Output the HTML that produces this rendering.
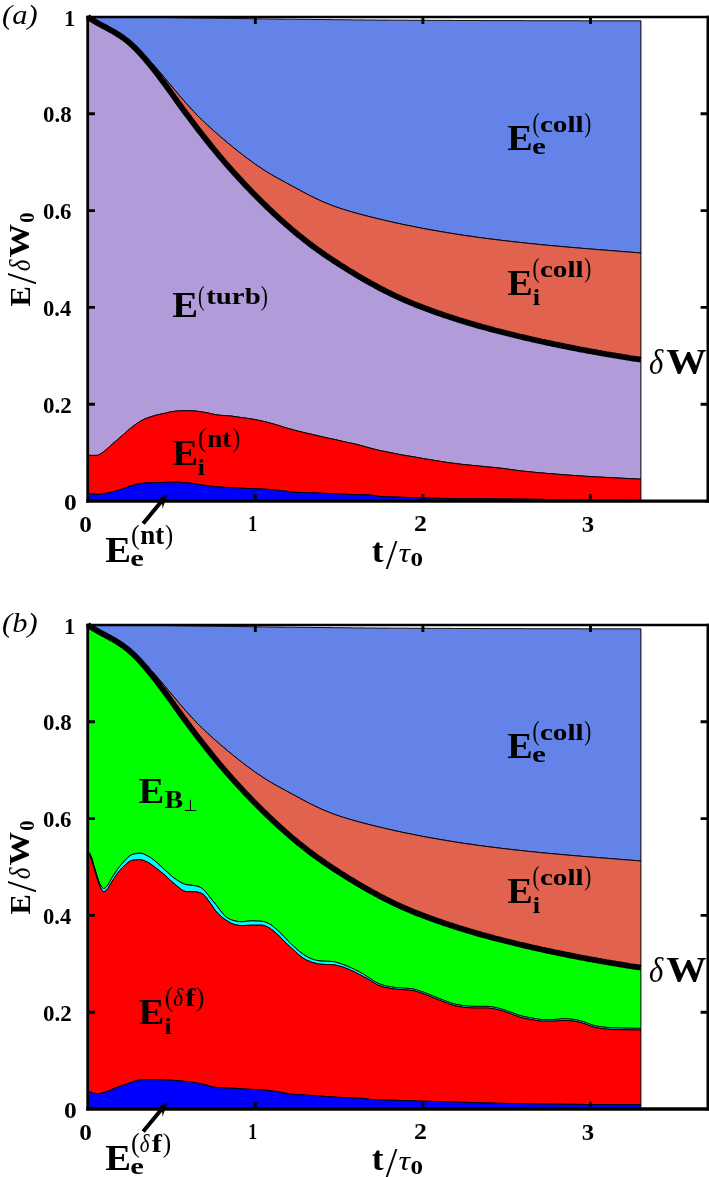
<!DOCTYPE html>
<html><head><meta charset="utf-8"><title>Energy budget</title>
<style>
html,body{margin:0;padding:0;background:#fff;}
svg{display:block;font-family:"Liberation Serif",serif;}
text{fill:#000;}
</style></head><body>
<svg width="709" height="1177" viewBox="0 0 709 1177">
<rect width="709" height="1177" fill="#fff"/>
<polygon points="87.7,16.9 89.7,16.9 91.7,16.9 93.7,16.9 95.7,16.9 97.7,17.0 99.7,17.0 101.7,17.0 103.7,17.0 105.7,17.0 107.7,17.0 109.7,17.0 111.7,17.1 113.7,17.1 115.7,17.1 117.7,17.1 119.7,17.1 121.7,17.1 123.7,17.2 125.7,17.2 127.7,17.2 129.7,17.2 131.7,17.2 133.7,17.2 135.7,17.3 137.7,17.3 139.7,17.3 141.7,17.3 143.7,17.3 145.7,17.4 147.7,17.4 149.7,17.4 151.7,17.4 153.7,17.4 155.7,17.5 157.7,17.5 159.7,17.5 161.7,17.5 163.7,17.5 165.7,17.6 167.7,17.6 169.7,17.6 171.7,17.6 173.7,17.7 175.7,17.7 177.7,17.7 179.7,17.8 181.7,17.8 183.7,17.8 185.7,17.8 187.7,17.9 189.7,17.9 191.7,17.9 193.7,17.9 195.7,18.0 197.7,18.0 199.7,18.0 201.7,18.1 203.7,18.1 205.7,18.1 207.7,18.1 209.7,18.2 211.7,18.2 213.7,18.2 215.7,18.2 217.7,18.3 219.7,18.3 221.7,18.3 223.7,18.3 225.7,18.4 227.7,18.4 229.7,18.4 231.7,18.4 233.7,18.5 235.7,18.5 237.7,18.5 239.7,18.6 241.7,18.6 243.7,18.6 245.7,18.6 247.7,18.7 249.7,18.7 251.7,18.7 253.7,18.7 255.7,18.8 257.7,18.8 259.7,18.8 261.7,18.9 263.7,18.9 265.7,18.9 267.7,18.9 269.7,19.0 271.7,19.0 273.7,19.0 275.7,19.0 277.7,19.1 279.7,19.1 281.7,19.1 283.7,19.1 285.7,19.2 287.7,19.2 289.7,19.2 291.7,19.2 293.7,19.2 295.7,19.3 297.7,19.3 299.7,19.3 301.7,19.3 303.7,19.3 305.7,19.4 307.7,19.4 309.7,19.4 311.7,19.4 313.7,19.5 315.7,19.5 317.7,19.5 319.7,19.5 321.7,19.5 323.7,19.6 325.7,19.6 327.7,19.6 329.7,19.6 331.7,19.6 333.7,19.7 335.7,19.7 337.7,19.7 339.7,19.7 341.7,19.7 343.7,19.8 345.7,19.8 347.7,19.8 349.7,19.8 351.7,19.8 353.7,19.9 355.7,19.9 357.7,19.9 359.7,19.9 361.7,19.9 363.7,19.9 365.7,20.0 367.7,20.0 369.7,20.0 371.7,20.0 373.7,20.0 375.7,20.0 377.7,20.1 379.7,20.1 381.7,20.1 383.7,20.1 385.7,20.1 387.7,20.1 389.7,20.1 391.7,20.2 393.7,20.2 395.7,20.2 397.7,20.2 399.7,20.2 401.7,20.2 403.7,20.2 405.7,20.2 407.7,20.2 409.7,20.3 411.7,20.3 413.7,20.3 415.7,20.3 417.7,20.3 419.7,20.3 421.7,20.3 423.7,20.3 425.7,20.3 427.7,20.3 429.7,20.4 431.7,20.4 433.7,20.4 435.7,20.4 437.7,20.4 439.7,20.4 441.7,20.4 443.7,20.4 445.7,20.4 447.7,20.4 449.7,20.4 451.7,20.4 453.7,20.5 455.7,20.5 457.7,20.5 459.7,20.5 461.7,20.5 463.7,20.5 465.7,20.5 467.7,20.5 469.7,20.5 471.7,20.5 473.7,20.5 475.7,20.5 477.7,20.5 479.7,20.5 481.7,20.6 483.7,20.6 485.7,20.6 487.7,20.6 489.7,20.6 491.7,20.6 493.7,20.6 495.7,20.6 497.7,20.6 499.7,20.6 501.7,20.6 503.7,20.6 505.7,20.6 507.7,20.6 509.7,20.6 511.7,20.6 513.7,20.6 515.7,20.6 517.7,20.6 519.7,20.6 521.7,20.6 523.7,20.7 525.7,20.7 527.7,20.7 529.7,20.7 531.7,20.7 533.7,20.7 535.7,20.7 537.7,20.7 539.7,20.7 541.7,20.7 543.7,20.7 545.7,20.7 547.7,20.7 549.7,20.7 551.7,20.7 553.7,20.7 555.7,20.7 557.7,20.7 559.7,20.7 561.7,20.7 563.7,20.7 565.7,20.7 567.7,20.7 569.7,20.7 571.7,20.7 573.7,20.7 575.7,20.7 577.7,20.7 579.7,20.8 581.7,20.8 583.7,20.8 585.7,20.8 587.7,20.8 589.7,20.8 591.7,20.8 593.7,20.8 595.7,20.8 597.7,20.8 599.7,20.8 601.7,20.8 603.7,20.8 605.7,20.8 607.7,20.8 609.7,20.8 611.7,20.8 613.7,20.8 615.7,20.8 617.7,20.8 619.7,20.8 621.7,20.8 623.7,20.8 625.7,20.8 627.7,20.8 629.7,20.8 631.7,20.8 633.7,20.8 635.7,20.8 637.7,20.8 639.7,20.8 640.9,20.8 640.9,253.0 639.7,252.9 637.7,252.8 635.7,252.6 633.7,252.4 631.7,252.3 629.7,252.1 627.7,252.0 625.7,251.8 623.7,251.7 621.7,251.5 619.7,251.3 617.7,251.2 615.7,251.0 613.7,250.9 611.7,250.7 609.7,250.6 607.7,250.4 605.7,250.2 603.7,250.1 601.7,249.9 599.7,249.8 597.7,249.6 595.7,249.4 593.7,249.3 591.7,249.1 589.7,249.0 587.7,248.8 585.7,248.6 583.7,248.5 581.7,248.3 579.7,248.1 577.7,248.0 575.7,247.8 573.7,247.6 571.7,247.4 569.7,247.3 567.7,247.1 565.7,246.9 563.7,246.7 561.7,246.6 559.7,246.4 557.7,246.2 555.7,246.0 553.7,245.8 551.7,245.7 549.7,245.5 547.7,245.3 545.7,245.1 543.7,244.9 541.7,244.7 539.7,244.5 537.7,244.3 535.7,244.1 533.7,243.9 531.7,243.7 529.7,243.5 527.7,243.3 525.7,243.1 523.7,242.9 521.7,242.6 519.7,242.4 517.7,242.2 515.7,242.0 513.7,241.8 511.7,241.5 509.7,241.3 507.7,241.1 505.7,240.8 503.7,240.6 501.7,240.4 499.7,240.1 497.7,239.9 495.7,239.6 493.7,239.4 491.7,239.1 489.7,238.9 487.7,238.6 485.7,238.4 483.7,238.1 481.7,237.8 479.7,237.6 477.7,237.3 475.7,237.0 473.7,236.7 471.7,236.4 469.7,236.2 467.7,235.9 465.7,235.6 463.7,235.3 461.7,235.0 459.7,234.7 457.7,234.4 455.7,234.1 453.7,233.7 451.7,233.4 449.7,233.1 447.7,232.8 445.7,232.4 443.7,232.1 441.7,231.8 439.7,231.4 437.7,231.1 435.7,230.7 433.7,230.4 431.7,230.0 429.7,229.7 427.7,229.3 425.7,228.9 423.7,228.6 421.7,228.2 419.7,227.8 417.7,227.4 415.7,227.0 413.7,226.6 411.7,226.2 409.7,225.8 407.7,225.4 405.7,225.0 403.7,224.6 401.7,224.2 399.7,223.7 397.7,223.3 395.7,222.9 393.7,222.4 391.7,222.0 389.7,221.5 387.7,221.1 385.7,220.6 383.7,220.1 381.7,219.6 379.7,219.2 377.7,218.7 375.7,218.2 373.7,217.7 371.7,217.2 369.7,216.7 367.7,216.2 365.7,215.7 363.7,215.2 361.7,214.6 359.7,214.1 357.7,213.6 355.7,213.0 353.7,212.5 351.7,211.9 349.7,211.3 347.7,210.7 345.7,210.1 343.7,209.5 341.7,208.8 339.7,208.2 337.7,207.5 335.7,206.8 333.7,206.1 331.7,205.3 329.7,204.6 327.7,203.7 325.7,202.9 323.7,202.1 321.7,201.2 319.7,200.3 317.7,199.4 315.7,198.4 313.7,197.5 311.7,196.5 309.7,195.5 307.7,194.5 305.7,193.4 303.7,192.4 301.7,191.3 299.7,190.2 297.7,189.1 295.7,188.0 293.7,186.9 291.7,185.8 289.7,184.7 287.7,183.7 285.7,182.6 283.7,181.5 281.7,180.4 279.7,179.3 277.7,178.2 275.7,177.1 273.7,176.0 271.7,174.8 269.7,173.6 267.7,172.4 265.7,171.1 263.7,169.9 261.7,168.5 259.7,167.2 257.7,165.9 255.7,164.5 253.7,163.1 251.7,161.6 249.7,160.2 247.7,158.7 245.7,157.2 243.7,155.7 241.7,154.1 239.7,152.6 237.7,151.0 235.7,149.4 233.7,147.8 231.7,146.2 229.7,144.5 227.7,142.9 225.7,141.2 223.7,139.5 221.7,137.8 219.7,136.1 217.7,134.3 215.7,132.6 213.7,130.8 211.7,129.0 209.7,127.2 207.7,125.4 205.7,123.5 203.7,121.6 201.7,119.6 199.7,117.7 197.7,115.7 195.7,113.6 193.7,111.5 191.7,109.4 189.7,107.2 187.7,105.0 185.7,102.8 183.7,100.5 181.7,98.2 179.7,95.8 177.7,93.5 175.7,91.1 173.7,88.8 171.7,86.4 169.7,84.0 167.7,81.6 165.7,79.2 163.7,76.8 161.7,74.4 159.7,72.1 157.7,69.7 155.7,67.4 153.7,65.1 151.7,62.9 149.7,60.6 147.7,58.4 145.7,56.3 143.7,54.2 141.7,52.1 139.7,50.1 137.7,48.2 135.7,46.3 133.7,44.4 131.7,42.7 129.7,41.0 127.7,39.4 125.7,37.9 123.7,36.5 121.7,35.2 119.7,34.0 117.7,32.9 115.7,31.8 113.7,30.7 111.7,29.8 109.7,28.8 107.7,27.9 105.7,26.9 103.7,26.0 101.7,25.0 99.7,24.1 97.7,23.1 95.7,22.0 93.7,20.9 91.7,19.7 89.7,18.4 87.7,17.0" fill="#6483e8" stroke="#000" stroke-width="1" stroke-linejoin="round"/>
<polygon points="87.7,17.0 89.7,18.4 91.7,19.7 93.7,20.9 95.7,22.0 97.7,23.1 99.7,24.1 101.7,25.0 103.7,26.0 105.7,26.9 107.7,27.9 109.7,28.8 111.7,29.8 113.7,30.7 115.7,31.8 117.7,32.9 119.7,34.0 121.7,35.2 123.7,36.5 125.7,37.9 127.7,39.4 129.7,41.0 131.7,42.7 133.7,44.4 135.7,46.3 137.7,48.2 139.7,50.1 141.7,52.1 143.7,54.2 145.7,56.3 147.7,58.4 149.7,60.6 151.7,62.9 153.7,65.1 155.7,67.4 157.7,69.7 159.7,72.1 161.7,74.4 163.7,76.8 165.7,79.2 167.7,81.6 169.7,84.0 171.7,86.4 173.7,88.8 175.7,91.1 177.7,93.5 179.7,95.8 181.7,98.2 183.7,100.5 185.7,102.8 187.7,105.0 189.7,107.2 191.7,109.4 193.7,111.5 195.7,113.6 197.7,115.7 199.7,117.7 201.7,119.6 203.7,121.6 205.7,123.5 207.7,125.4 209.7,127.2 211.7,129.0 213.7,130.8 215.7,132.6 217.7,134.3 219.7,136.1 221.7,137.8 223.7,139.5 225.7,141.2 227.7,142.9 229.7,144.5 231.7,146.2 233.7,147.8 235.7,149.4 237.7,151.0 239.7,152.6 241.7,154.1 243.7,155.7 245.7,157.2 247.7,158.7 249.7,160.2 251.7,161.6 253.7,163.1 255.7,164.5 257.7,165.9 259.7,167.2 261.7,168.5 263.7,169.9 265.7,171.1 267.7,172.4 269.7,173.6 271.7,174.8 273.7,176.0 275.7,177.1 277.7,178.2 279.7,179.3 281.7,180.4 283.7,181.5 285.7,182.6 287.7,183.7 289.7,184.7 291.7,185.8 293.7,186.9 295.7,188.0 297.7,189.1 299.7,190.2 301.7,191.3 303.7,192.4 305.7,193.4 307.7,194.5 309.7,195.5 311.7,196.5 313.7,197.5 315.7,198.4 317.7,199.4 319.7,200.3 321.7,201.2 323.7,202.1 325.7,202.9 327.7,203.7 329.7,204.6 331.7,205.3 333.7,206.1 335.7,206.8 337.7,207.5 339.7,208.2 341.7,208.8 343.7,209.5 345.7,210.1 347.7,210.7 349.7,211.3 351.7,211.9 353.7,212.5 355.7,213.0 357.7,213.6 359.7,214.1 361.7,214.6 363.7,215.2 365.7,215.7 367.7,216.2 369.7,216.7 371.7,217.2 373.7,217.7 375.7,218.2 377.7,218.7 379.7,219.2 381.7,219.6 383.7,220.1 385.7,220.6 387.7,221.1 389.7,221.5 391.7,222.0 393.7,222.4 395.7,222.9 397.7,223.3 399.7,223.7 401.7,224.2 403.7,224.6 405.7,225.0 407.7,225.4 409.7,225.8 411.7,226.2 413.7,226.6 415.7,227.0 417.7,227.4 419.7,227.8 421.7,228.2 423.7,228.6 425.7,228.9 427.7,229.3 429.7,229.7 431.7,230.0 433.7,230.4 435.7,230.7 437.7,231.1 439.7,231.4 441.7,231.8 443.7,232.1 445.7,232.4 447.7,232.8 449.7,233.1 451.7,233.4 453.7,233.7 455.7,234.1 457.7,234.4 459.7,234.7 461.7,235.0 463.7,235.3 465.7,235.6 467.7,235.9 469.7,236.2 471.7,236.4 473.7,236.7 475.7,237.0 477.7,237.3 479.7,237.6 481.7,237.8 483.7,238.1 485.7,238.4 487.7,238.6 489.7,238.9 491.7,239.1 493.7,239.4 495.7,239.6 497.7,239.9 499.7,240.1 501.7,240.4 503.7,240.6 505.7,240.8 507.7,241.1 509.7,241.3 511.7,241.5 513.7,241.8 515.7,242.0 517.7,242.2 519.7,242.4 521.7,242.6 523.7,242.9 525.7,243.1 527.7,243.3 529.7,243.5 531.7,243.7 533.7,243.9 535.7,244.1 537.7,244.3 539.7,244.5 541.7,244.7 543.7,244.9 545.7,245.1 547.7,245.3 549.7,245.5 551.7,245.7 553.7,245.8 555.7,246.0 557.7,246.2 559.7,246.4 561.7,246.6 563.7,246.7 565.7,246.9 567.7,247.1 569.7,247.3 571.7,247.4 573.7,247.6 575.7,247.8 577.7,248.0 579.7,248.1 581.7,248.3 583.7,248.5 585.7,248.6 587.7,248.8 589.7,249.0 591.7,249.1 593.7,249.3 595.7,249.4 597.7,249.6 599.7,249.8 601.7,249.9 603.7,250.1 605.7,250.2 607.7,250.4 609.7,250.6 611.7,250.7 613.7,250.9 615.7,251.0 617.7,251.2 619.7,251.3 621.7,251.5 623.7,251.7 625.7,251.8 627.7,252.0 629.7,252.1 631.7,252.3 633.7,252.4 635.7,252.6 637.7,252.8 639.7,252.9 640.9,253.0 640.9,359.7 639.7,359.5 637.7,359.2 635.7,358.9 633.7,358.6 631.7,358.3 629.7,358.0 627.7,357.6 625.7,357.3 623.7,357.0 621.7,356.7 619.7,356.3 617.7,356.0 615.7,355.7 613.7,355.3 611.7,355.0 609.7,354.7 607.7,354.3 605.7,354.0 603.7,353.6 601.7,353.3 599.7,352.9 597.7,352.6 595.7,352.2 593.7,351.9 591.7,351.5 589.7,351.1 587.7,350.8 585.7,350.4 583.7,350.0 581.7,349.6 579.7,349.3 577.7,348.9 575.7,348.5 573.7,348.1 571.7,347.7 569.7,347.3 567.7,346.9 565.7,346.5 563.7,346.1 561.7,345.7 559.7,345.3 557.7,344.9 555.7,344.5 553.7,344.1 551.7,343.6 549.7,343.2 547.7,342.8 545.7,342.4 543.7,341.9 541.7,341.5 539.7,341.0 537.7,340.6 535.7,340.2 533.7,339.7 531.7,339.3 529.7,338.8 527.7,338.3 525.7,337.9 523.7,337.4 521.7,336.9 519.7,336.5 517.7,336.0 515.7,335.5 513.7,335.0 511.7,334.5 509.7,334.0 507.7,333.5 505.7,333.0 503.7,332.5 501.7,332.0 499.7,331.5 497.7,331.0 495.7,330.5 493.7,330.0 491.7,329.4 489.7,328.9 487.7,328.3 485.7,327.8 483.7,327.2 481.7,326.7 479.7,326.1 477.7,325.6 475.7,325.0 473.7,324.4 471.7,323.8 469.7,323.2 467.7,322.6 465.7,322.0 463.7,321.4 461.7,320.8 459.7,320.2 457.7,319.6 455.7,318.9 453.7,318.3 451.7,317.6 449.7,317.0 447.7,316.3 445.7,315.7 443.7,315.0 441.7,314.3 439.7,313.6 437.7,312.9 435.7,312.2 433.7,311.5 431.7,310.8 429.7,310.1 427.7,309.3 425.7,308.6 423.7,307.8 421.7,307.1 419.7,306.3 417.7,305.5 415.7,304.7 413.7,303.9 411.7,303.1 409.7,302.2 407.7,301.4 405.7,300.5 403.7,299.7 401.7,298.8 399.7,297.9 397.7,297.0 395.7,296.0 393.7,295.1 391.7,294.1 389.7,293.1 387.7,292.2 385.7,291.2 383.7,290.1 381.7,289.1 379.7,288.1 377.7,287.0 375.7,285.9 373.7,284.8 371.7,283.7 369.7,282.6 367.7,281.5 365.7,280.4 363.7,279.2 361.7,278.1 359.7,276.9 357.7,275.7 355.7,274.5 353.7,273.3 351.7,272.1 349.7,270.9 347.7,269.6 345.7,268.4 343.7,267.1 341.7,265.9 339.7,264.6 337.7,263.3 335.7,262.0 333.7,260.7 331.7,259.4 329.7,258.1 327.7,256.7 325.7,255.4 323.7,254.0 321.7,252.6 319.7,251.2 317.7,249.8 315.7,248.3 313.7,246.9 311.7,245.4 309.7,243.9 307.7,242.3 305.7,240.8 303.7,239.2 301.7,237.6 299.7,236.0 297.7,234.4 295.7,232.7 293.7,231.1 291.7,229.4 289.7,227.6 287.7,225.9 285.7,224.2 283.7,222.4 281.7,220.6 279.7,218.8 277.7,217.0 275.7,215.1 273.7,213.3 271.7,211.4 269.7,209.5 267.7,207.6 265.7,205.6 263.7,203.7 261.7,201.7 259.7,199.7 257.7,197.7 255.7,195.7 253.7,193.7 251.7,191.7 249.7,189.6 247.7,187.5 245.7,185.4 243.7,183.3 241.7,181.1 239.7,179.0 237.7,176.8 235.7,174.6 233.7,172.4 231.7,170.1 229.7,167.9 227.7,165.6 225.7,163.3 223.7,161.0 221.7,158.6 219.7,156.3 217.7,153.9 215.7,151.5 213.7,149.0 211.7,146.6 209.7,144.1 207.7,141.6 205.7,139.1 203.7,136.6 201.7,134.0 199.7,131.5 197.7,128.9 195.7,126.2 193.7,123.6 191.7,120.9 189.7,118.3 187.7,115.6 185.7,112.9 183.7,110.2 181.7,107.4 179.7,104.7 177.7,101.9 175.7,99.2 173.7,96.4 171.7,93.6 169.7,90.8 167.7,88.1 165.7,85.3 163.7,82.6 161.7,79.9 159.7,77.2 157.7,74.6 155.7,72.0 153.7,69.5 151.7,67.0 149.7,64.5 147.7,62.1 145.7,59.7 143.7,57.3 141.7,55.0 139.7,52.8 137.7,50.7 135.7,48.6 133.7,46.6 131.7,44.8 129.7,43.0 127.7,41.3 125.7,39.7 123.7,38.2 121.7,36.8 119.7,35.5 117.7,34.2 115.7,33.0 113.7,31.8 111.7,30.7 109.7,29.6 107.7,28.5 105.7,27.4 103.7,26.3 101.7,25.3 99.7,24.2 97.7,23.1 95.7,22.0 93.7,20.8 91.7,19.6 89.7,18.3 87.7,17.0" fill="#e0624f" stroke="#000" stroke-width="1" stroke-linejoin="round"/>
<polygon points="87.7,17.0 89.7,18.3 91.7,19.6 93.7,20.8 95.7,22.0 97.7,23.1 99.7,24.2 101.7,25.3 103.7,26.3 105.7,27.4 107.7,28.5 109.7,29.6 111.7,30.7 113.7,31.8 115.7,33.0 117.7,34.2 119.7,35.5 121.7,36.8 123.7,38.2 125.7,39.7 127.7,41.3 129.7,43.0 131.7,44.8 133.7,46.6 135.7,48.6 137.7,50.7 139.7,52.8 141.7,55.0 143.7,57.3 145.7,59.7 147.7,62.1 149.7,64.5 151.7,67.0 153.7,69.5 155.7,72.0 157.7,74.6 159.7,77.2 161.7,79.9 163.7,82.6 165.7,85.3 167.7,88.1 169.7,90.8 171.7,93.6 173.7,96.4 175.7,99.2 177.7,101.9 179.7,104.7 181.7,107.4 183.7,110.2 185.7,112.9 187.7,115.6 189.7,118.3 191.7,120.9 193.7,123.6 195.7,126.2 197.7,128.9 199.7,131.5 201.7,134.0 203.7,136.6 205.7,139.1 207.7,141.6 209.7,144.1 211.7,146.6 213.7,149.0 215.7,151.5 217.7,153.9 219.7,156.3 221.7,158.6 223.7,161.0 225.7,163.3 227.7,165.6 229.7,167.9 231.7,170.1 233.7,172.4 235.7,174.6 237.7,176.8 239.7,179.0 241.7,181.1 243.7,183.3 245.7,185.4 247.7,187.5 249.7,189.6 251.7,191.7 253.7,193.7 255.7,195.7 257.7,197.7 259.7,199.7 261.7,201.7 263.7,203.7 265.7,205.6 267.7,207.6 269.7,209.5 271.7,211.4 273.7,213.3 275.7,215.1 277.7,217.0 279.7,218.8 281.7,220.6 283.7,222.4 285.7,224.2 287.7,225.9 289.7,227.6 291.7,229.4 293.7,231.1 295.7,232.7 297.7,234.4 299.7,236.0 301.7,237.6 303.7,239.2 305.7,240.8 307.7,242.3 309.7,243.9 311.7,245.4 313.7,246.9 315.7,248.3 317.7,249.8 319.7,251.2 321.7,252.6 323.7,254.0 325.7,255.4 327.7,256.7 329.7,258.1 331.7,259.4 333.7,260.7 335.7,262.0 337.7,263.3 339.7,264.6 341.7,265.9 343.7,267.1 345.7,268.4 347.7,269.6 349.7,270.9 351.7,272.1 353.7,273.3 355.7,274.5 357.7,275.7 359.7,276.9 361.7,278.1 363.7,279.2 365.7,280.4 367.7,281.5 369.7,282.6 371.7,283.7 373.7,284.8 375.7,285.9 377.7,287.0 379.7,288.1 381.7,289.1 383.7,290.1 385.7,291.2 387.7,292.2 389.7,293.1 391.7,294.1 393.7,295.1 395.7,296.0 397.7,297.0 399.7,297.9 401.7,298.8 403.7,299.7 405.7,300.5 407.7,301.4 409.7,302.2 411.7,303.1 413.7,303.9 415.7,304.7 417.7,305.5 419.7,306.3 421.7,307.1 423.7,307.8 425.7,308.6 427.7,309.3 429.7,310.1 431.7,310.8 433.7,311.5 435.7,312.2 437.7,312.9 439.7,313.6 441.7,314.3 443.7,315.0 445.7,315.7 447.7,316.3 449.7,317.0 451.7,317.6 453.7,318.3 455.7,318.9 457.7,319.6 459.7,320.2 461.7,320.8 463.7,321.4 465.7,322.0 467.7,322.6 469.7,323.2 471.7,323.8 473.7,324.4 475.7,325.0 477.7,325.6 479.7,326.1 481.7,326.7 483.7,327.2 485.7,327.8 487.7,328.3 489.7,328.9 491.7,329.4 493.7,330.0 495.7,330.5 497.7,331.0 499.7,331.5 501.7,332.0 503.7,332.5 505.7,333.0 507.7,333.5 509.7,334.0 511.7,334.5 513.7,335.0 515.7,335.5 517.7,336.0 519.7,336.5 521.7,336.9 523.7,337.4 525.7,337.9 527.7,338.3 529.7,338.8 531.7,339.3 533.7,339.7 535.7,340.2 537.7,340.6 539.7,341.0 541.7,341.5 543.7,341.9 545.7,342.4 547.7,342.8 549.7,343.2 551.7,343.6 553.7,344.1 555.7,344.5 557.7,344.9 559.7,345.3 561.7,345.7 563.7,346.1 565.7,346.5 567.7,346.9 569.7,347.3 571.7,347.7 573.7,348.1 575.7,348.5 577.7,348.9 579.7,349.3 581.7,349.6 583.7,350.0 585.7,350.4 587.7,350.8 589.7,351.1 591.7,351.5 593.7,351.9 595.7,352.2 597.7,352.6 599.7,352.9 601.7,353.3 603.7,353.6 605.7,354.0 607.7,354.3 609.7,354.7 611.7,355.0 613.7,355.3 615.7,355.7 617.7,356.0 619.7,356.3 621.7,356.7 623.7,357.0 625.7,357.3 627.7,357.6 629.7,358.0 631.7,358.3 633.7,358.6 635.7,358.9 637.7,359.2 639.7,359.5 640.9,359.7 640.9,479.1 639.7,479.1 637.7,479.0 635.7,478.9 633.7,478.8 631.7,478.7 629.7,478.6 627.7,478.5 625.7,478.4 623.7,478.3 621.7,478.2 619.7,478.1 617.7,478.0 615.7,477.9 613.7,477.8 611.7,477.7 609.7,477.6 607.7,477.5 605.7,477.4 603.7,477.3 601.7,477.2 599.7,477.1 597.7,477.0 595.7,476.9 593.7,476.7 591.7,476.6 589.7,476.5 587.7,476.4 585.7,476.3 583.7,476.1 581.7,476.0 579.7,475.9 577.7,475.7 575.7,475.6 573.7,475.5 571.7,475.3 569.7,475.2 567.7,475.0 565.7,474.9 563.7,474.7 561.7,474.6 559.7,474.4 557.7,474.3 555.7,474.1 553.7,473.9 551.7,473.8 549.7,473.6 547.7,473.5 545.7,473.3 543.7,473.1 541.7,472.9 539.7,472.8 537.7,472.6 535.7,472.4 533.7,472.2 531.7,472.0 529.7,471.8 527.7,471.6 525.7,471.4 523.7,471.2 521.7,471.0 519.7,470.7 517.7,470.5 515.7,470.2 513.7,469.9 511.7,469.7 509.7,469.4 507.7,469.1 505.7,468.8 503.7,468.5 501.7,468.3 499.7,468.1 497.7,467.9 495.7,467.6 493.7,467.4 491.7,467.3 489.7,467.1 487.7,466.9 485.7,466.7 483.7,466.5 481.7,466.3 479.7,466.1 477.7,465.9 475.7,465.7 473.7,465.5 471.7,465.3 469.7,465.1 467.7,464.9 465.7,464.7 463.7,464.5 461.7,464.3 459.7,464.0 457.7,463.8 455.7,463.6 453.7,463.3 451.7,463.0 449.7,462.8 447.7,462.5 445.7,462.2 443.7,461.9 441.7,461.6 439.7,461.2 437.7,460.9 435.7,460.6 433.7,460.3 431.7,459.9 429.7,459.6 427.7,459.3 425.7,459.0 423.7,458.6 421.7,458.3 419.7,457.9 417.7,457.6 415.7,457.2 413.7,456.8 411.7,456.5 409.7,456.2 407.7,455.9 405.7,455.6 403.7,455.2 401.7,454.9 399.7,454.5 397.7,454.1 395.7,453.7 393.7,453.3 391.7,452.9 389.7,452.5 387.7,452.1 385.7,451.7 383.7,451.3 381.7,450.9 379.7,450.5 377.7,450.0 375.7,449.5 373.7,449.0 371.7,448.5 369.7,448.0 367.7,447.4 365.7,446.8 363.7,446.3 361.7,445.7 359.7,445.2 357.7,444.6 355.7,444.2 353.7,443.7 351.7,443.3 349.7,442.9 347.7,442.5 345.7,442.0 343.7,441.6 341.7,441.1 339.7,440.6 337.7,440.2 335.7,439.7 333.7,439.3 331.7,438.9 329.7,438.5 327.7,438.0 325.7,437.6 323.7,437.1 321.7,436.6 319.7,436.2 317.7,435.7 315.7,435.2 313.7,434.8 311.7,434.3 309.7,433.9 307.7,433.4 305.7,433.0 303.7,432.5 301.7,432.0 299.7,431.5 297.7,431.0 295.7,430.5 293.7,430.0 291.7,429.4 289.7,428.9 287.7,428.3 285.7,427.7 283.7,427.1 281.7,426.5 279.7,425.8 277.7,425.2 275.7,424.6 273.7,424.0 271.7,423.5 269.7,422.9 267.7,422.4 265.7,421.9 263.7,421.4 261.7,421.0 259.7,420.5 257.7,420.1 255.7,419.7 253.7,419.3 251.7,419.0 249.7,418.7 247.7,418.4 245.7,418.1 243.7,417.8 241.7,417.6 239.7,417.3 237.7,417.0 235.7,416.7 233.7,416.4 231.7,416.1 229.7,415.9 227.7,415.8 225.7,415.6 223.7,415.5 221.7,415.4 219.7,415.2 217.7,415.0 215.7,414.7 213.7,414.3 211.7,413.9 209.7,413.4 207.7,412.9 205.7,412.6 203.7,412.2 201.7,411.9 199.7,411.6 197.7,411.3 195.7,411.1 193.7,411.0 191.7,410.9 189.7,410.8 187.7,410.7 185.7,410.7 183.7,410.7 181.7,410.8 179.7,410.9 177.7,411.0 175.7,411.2 173.7,411.4 171.7,411.7 169.7,412.1 167.7,412.6 165.7,413.1 163.7,413.5 161.7,413.9 159.7,414.4 157.7,414.8 155.7,415.3 153.7,415.9 151.7,416.5 149.7,417.1 147.7,417.9 145.7,418.6 143.7,419.5 141.7,420.5 139.7,421.7 137.7,423.0 135.7,424.4 133.7,425.8 131.7,427.3 129.7,429.0 127.7,430.7 125.7,432.5 123.7,434.3 121.7,436.0 119.7,437.7 117.7,439.5 115.7,441.2 113.7,442.9 111.7,444.6 109.7,446.4 107.7,448.3 105.7,450.1 103.7,451.8 101.7,453.2 99.7,454.4 97.7,455.3 95.7,455.4 93.7,455.4 91.7,455.4 89.7,455.3 87.7,455.2" fill="#b19cd9" stroke="#000" stroke-width="1" stroke-linejoin="round"/>
<polygon points="87.7,455.2 89.7,455.3 91.7,455.4 93.7,455.4 95.7,455.4 97.7,455.3 99.7,454.4 101.7,453.2 103.7,451.8 105.7,450.1 107.7,448.3 109.7,446.4 111.7,444.6 113.7,442.9 115.7,441.2 117.7,439.5 119.7,437.7 121.7,436.0 123.7,434.3 125.7,432.5 127.7,430.7 129.7,429.0 131.7,427.3 133.7,425.8 135.7,424.4 137.7,423.0 139.7,421.7 141.7,420.5 143.7,419.5 145.7,418.6 147.7,417.9 149.7,417.1 151.7,416.5 153.7,415.9 155.7,415.3 157.7,414.8 159.7,414.4 161.7,413.9 163.7,413.5 165.7,413.1 167.7,412.6 169.7,412.1 171.7,411.7 173.7,411.4 175.7,411.2 177.7,411.0 179.7,410.9 181.7,410.8 183.7,410.7 185.7,410.7 187.7,410.7 189.7,410.8 191.7,410.9 193.7,411.0 195.7,411.1 197.7,411.3 199.7,411.6 201.7,411.9 203.7,412.2 205.7,412.6 207.7,412.9 209.7,413.4 211.7,413.9 213.7,414.3 215.7,414.7 217.7,415.0 219.7,415.2 221.7,415.4 223.7,415.5 225.7,415.6 227.7,415.8 229.7,415.9 231.7,416.1 233.7,416.4 235.7,416.7 237.7,417.0 239.7,417.3 241.7,417.6 243.7,417.8 245.7,418.1 247.7,418.4 249.7,418.7 251.7,419.0 253.7,419.3 255.7,419.7 257.7,420.1 259.7,420.5 261.7,421.0 263.7,421.4 265.7,421.9 267.7,422.4 269.7,422.9 271.7,423.5 273.7,424.0 275.7,424.6 277.7,425.2 279.7,425.8 281.7,426.5 283.7,427.1 285.7,427.7 287.7,428.3 289.7,428.9 291.7,429.4 293.7,430.0 295.7,430.5 297.7,431.0 299.7,431.5 301.7,432.0 303.7,432.5 305.7,433.0 307.7,433.4 309.7,433.9 311.7,434.3 313.7,434.8 315.7,435.2 317.7,435.7 319.7,436.2 321.7,436.6 323.7,437.1 325.7,437.6 327.7,438.0 329.7,438.5 331.7,438.9 333.7,439.3 335.7,439.7 337.7,440.2 339.7,440.6 341.7,441.1 343.7,441.6 345.7,442.0 347.7,442.5 349.7,442.9 351.7,443.3 353.7,443.7 355.7,444.2 357.7,444.6 359.7,445.2 361.7,445.7 363.7,446.3 365.7,446.8 367.7,447.4 369.7,448.0 371.7,448.5 373.7,449.0 375.7,449.5 377.7,450.0 379.7,450.5 381.7,450.9 383.7,451.3 385.7,451.7 387.7,452.1 389.7,452.5 391.7,452.9 393.7,453.3 395.7,453.7 397.7,454.1 399.7,454.5 401.7,454.9 403.7,455.2 405.7,455.6 407.7,455.9 409.7,456.2 411.7,456.5 413.7,456.8 415.7,457.2 417.7,457.6 419.7,457.9 421.7,458.3 423.7,458.6 425.7,459.0 427.7,459.3 429.7,459.6 431.7,459.9 433.7,460.3 435.7,460.6 437.7,460.9 439.7,461.2 441.7,461.6 443.7,461.9 445.7,462.2 447.7,462.5 449.7,462.8 451.7,463.0 453.7,463.3 455.7,463.6 457.7,463.8 459.7,464.0 461.7,464.3 463.7,464.5 465.7,464.7 467.7,464.9 469.7,465.1 471.7,465.3 473.7,465.5 475.7,465.7 477.7,465.9 479.7,466.1 481.7,466.3 483.7,466.5 485.7,466.7 487.7,466.9 489.7,467.1 491.7,467.3 493.7,467.4 495.7,467.6 497.7,467.9 499.7,468.1 501.7,468.3 503.7,468.5 505.7,468.8 507.7,469.1 509.7,469.4 511.7,469.7 513.7,469.9 515.7,470.2 517.7,470.5 519.7,470.7 521.7,471.0 523.7,471.2 525.7,471.4 527.7,471.6 529.7,471.8 531.7,472.0 533.7,472.2 535.7,472.4 537.7,472.6 539.7,472.8 541.7,472.9 543.7,473.1 545.7,473.3 547.7,473.5 549.7,473.6 551.7,473.8 553.7,473.9 555.7,474.1 557.7,474.3 559.7,474.4 561.7,474.6 563.7,474.7 565.7,474.9 567.7,475.0 569.7,475.2 571.7,475.3 573.7,475.5 575.7,475.6 577.7,475.7 579.7,475.9 581.7,476.0 583.7,476.1 585.7,476.3 587.7,476.4 589.7,476.5 591.7,476.6 593.7,476.7 595.7,476.9 597.7,477.0 599.7,477.1 601.7,477.2 603.7,477.3 605.7,477.4 607.7,477.5 609.7,477.6 611.7,477.7 613.7,477.8 615.7,477.9 617.7,478.0 619.7,478.1 621.7,478.2 623.7,478.3 625.7,478.4 627.7,478.5 629.7,478.6 631.7,478.7 633.7,478.8 635.7,478.9 637.7,479.0 639.7,479.1 640.9,479.1 640.9,500.3 639.7,500.3 637.7,500.3 635.7,500.3 633.7,500.3 631.7,500.3 629.7,500.3 627.7,500.2 625.7,500.2 623.7,500.2 621.7,500.2 619.7,500.2 617.7,500.2 615.7,500.2 613.7,500.2 611.7,500.2 609.7,500.1 607.7,500.1 605.7,500.1 603.7,500.1 601.7,500.1 599.7,500.1 597.7,500.1 595.7,500.0 593.7,500.0 591.7,500.0 589.7,500.0 587.7,500.0 585.7,500.0 583.7,499.9 581.7,499.9 579.7,499.9 577.7,499.9 575.7,499.9 573.7,499.8 571.7,499.8 569.7,499.8 567.7,499.8 565.7,499.7 563.7,499.7 561.7,499.7 559.7,499.7 557.7,499.6 555.7,499.6 553.7,499.6 551.7,499.6 549.7,499.5 547.7,499.5 545.7,499.5 543.7,499.4 541.7,499.4 539.7,499.4 537.7,499.4 535.7,499.3 533.7,499.3 531.7,499.3 529.7,499.2 527.7,499.2 525.7,499.2 523.7,499.2 521.7,499.1 519.7,499.1 517.7,499.1 515.7,499.1 513.7,499.0 511.7,499.0 509.7,499.0 507.7,499.0 505.7,499.0 503.7,498.9 501.7,498.9 499.7,498.9 497.7,498.9 495.7,498.9 493.7,498.9 491.7,498.8 489.7,498.8 487.7,498.8 485.7,498.8 483.7,498.8 481.7,498.8 479.7,498.7 477.7,498.7 475.7,498.7 473.7,498.7 471.7,498.7 469.7,498.7 467.7,498.6 465.7,498.6 463.7,498.6 461.7,498.6 459.7,498.6 457.7,498.6 455.7,498.5 453.7,498.5 451.7,498.5 449.7,498.5 447.7,498.4 445.7,498.4 443.7,498.4 441.7,498.4 439.7,498.3 437.7,498.3 435.7,498.3 433.7,498.2 431.7,498.2 429.7,498.1 427.7,498.1 425.7,498.1 423.7,498.0 421.7,498.0 419.7,497.9 417.7,497.8 415.7,497.8 413.7,497.7 411.7,497.6 409.7,497.6 407.7,497.5 405.7,497.4 403.7,497.3 401.7,497.3 399.7,497.2 397.7,497.2 395.7,497.1 393.7,497.0 391.7,497.0 389.7,496.9 387.7,496.8 385.7,496.7 383.7,496.6 381.7,496.5 379.7,496.4 377.7,496.1 375.7,495.8 373.7,495.5 371.7,495.2 369.7,495.1 367.7,495.0 365.7,494.9 363.7,494.8 361.7,494.7 359.7,494.7 357.7,494.6 355.7,494.6 353.7,494.5 351.7,494.5 349.7,494.4 347.7,494.3 345.7,494.3 343.7,494.2 341.7,494.1 339.7,494.0 337.7,493.9 335.7,493.8 333.7,493.7 331.7,493.6 329.7,493.6 327.7,493.5 325.7,493.4 323.7,493.3 321.7,493.2 319.7,493.2 317.7,493.1 315.7,493.0 313.7,492.9 311.7,492.9 309.7,492.8 307.7,492.7 305.7,492.6 303.7,492.6 301.7,492.5 299.7,492.5 297.7,492.4 295.7,492.3 293.7,492.2 291.7,492.1 289.7,491.8 287.7,491.5 285.7,491.2 283.7,490.9 281.7,490.7 279.7,490.5 277.7,490.3 275.7,490.1 273.7,490.0 271.7,489.8 269.7,489.6 267.7,489.4 265.7,489.2 263.7,489.1 261.7,489.0 259.7,488.9 257.7,488.8 255.7,488.7 253.7,488.7 251.7,488.6 249.7,488.5 247.7,488.5 245.7,488.4 243.7,488.3 241.7,488.2 239.7,488.1 237.7,488.0 235.7,488.0 233.7,487.9 231.7,487.8 229.7,487.7 227.7,487.5 225.7,487.4 223.7,487.3 221.7,487.2 219.7,487.1 217.7,486.9 215.7,486.7 213.7,486.5 211.7,486.2 209.7,486.0 207.7,485.7 205.7,485.4 203.7,485.2 201.7,484.9 199.7,484.6 197.7,484.3 195.7,484.0 193.7,483.7 191.7,483.4 189.7,483.1 187.7,482.9 185.7,482.7 183.7,482.6 181.7,482.4 179.7,482.3 177.7,482.2 175.7,482.2 173.7,482.2 171.7,482.2 169.7,482.3 167.7,482.3 165.7,482.4 163.7,482.4 161.7,482.5 159.7,482.5 157.7,482.6 155.7,482.6 153.7,482.7 151.7,482.8 149.7,482.8 147.7,482.9 145.7,483.0 143.7,483.1 141.7,483.3 139.7,483.6 137.7,484.0 135.7,484.5 133.7,485.0 131.7,485.5 129.7,486.2 127.7,487.0 125.7,487.8 123.7,488.5 121.7,489.2 119.7,489.8 117.7,490.4 115.7,491.0 113.7,491.5 111.7,492.0 109.7,492.5 107.7,493.0 105.7,493.4 103.7,493.8 101.7,494.1 99.7,494.3 97.7,494.3 95.7,494.2 93.7,494.1 91.7,493.9 89.7,493.6 87.7,493.2" fill="#ff0000" stroke="#000" stroke-width="1" stroke-linejoin="round"/>
<polygon points="87.7,493.2 89.7,493.6 91.7,493.9 93.7,494.1 95.7,494.2 97.7,494.3 99.7,494.3 101.7,494.1 103.7,493.8 105.7,493.4 107.7,493.0 109.7,492.5 111.7,492.0 113.7,491.5 115.7,491.0 117.7,490.4 119.7,489.8 121.7,489.2 123.7,488.5 125.7,487.8 127.7,487.0 129.7,486.2 131.7,485.5 133.7,485.0 135.7,484.5 137.7,484.0 139.7,483.6 141.7,483.3 143.7,483.1 145.7,483.0 147.7,482.9 149.7,482.8 151.7,482.8 153.7,482.7 155.7,482.6 157.7,482.6 159.7,482.5 161.7,482.5 163.7,482.4 165.7,482.4 167.7,482.3 169.7,482.3 171.7,482.2 173.7,482.2 175.7,482.2 177.7,482.2 179.7,482.3 181.7,482.4 183.7,482.6 185.7,482.7 187.7,482.9 189.7,483.1 191.7,483.4 193.7,483.7 195.7,484.0 197.7,484.3 199.7,484.6 201.7,484.9 203.7,485.2 205.7,485.4 207.7,485.7 209.7,486.0 211.7,486.2 213.7,486.5 215.7,486.7 217.7,486.9 219.7,487.1 221.7,487.2 223.7,487.3 225.7,487.4 227.7,487.5 229.7,487.7 231.7,487.8 233.7,487.9 235.7,488.0 237.7,488.0 239.7,488.1 241.7,488.2 243.7,488.3 245.7,488.4 247.7,488.5 249.7,488.5 251.7,488.6 253.7,488.7 255.7,488.7 257.7,488.8 259.7,488.9 261.7,489.0 263.7,489.1 265.7,489.2 267.7,489.4 269.7,489.6 271.7,489.8 273.7,490.0 275.7,490.1 277.7,490.3 279.7,490.5 281.7,490.7 283.7,490.9 285.7,491.2 287.7,491.5 289.7,491.8 291.7,492.1 293.7,492.2 295.7,492.3 297.7,492.4 299.7,492.5 301.7,492.5 303.7,492.6 305.7,492.6 307.7,492.7 309.7,492.8 311.7,492.9 313.7,492.9 315.7,493.0 317.7,493.1 319.7,493.2 321.7,493.2 323.7,493.3 325.7,493.4 327.7,493.5 329.7,493.6 331.7,493.6 333.7,493.7 335.7,493.8 337.7,493.9 339.7,494.0 341.7,494.1 343.7,494.2 345.7,494.3 347.7,494.3 349.7,494.4 351.7,494.5 353.7,494.5 355.7,494.6 357.7,494.6 359.7,494.7 361.7,494.7 363.7,494.8 365.7,494.9 367.7,495.0 369.7,495.1 371.7,495.2 373.7,495.5 375.7,495.8 377.7,496.1 379.7,496.4 381.7,496.5 383.7,496.6 385.7,496.7 387.7,496.8 389.7,496.9 391.7,497.0 393.7,497.0 395.7,497.1 397.7,497.2 399.7,497.2 401.7,497.3 403.7,497.3 405.7,497.4 407.7,497.5 409.7,497.6 411.7,497.6 413.7,497.7 415.7,497.8 417.7,497.8 419.7,497.9 421.7,498.0 423.7,498.0 425.7,498.1 427.7,498.1 429.7,498.1 431.7,498.2 433.7,498.2 435.7,498.3 437.7,498.3 439.7,498.3 441.7,498.4 443.7,498.4 445.7,498.4 447.7,498.4 449.7,498.5 451.7,498.5 453.7,498.5 455.7,498.5 457.7,498.6 459.7,498.6 461.7,498.6 463.7,498.6 465.7,498.6 467.7,498.6 469.7,498.7 471.7,498.7 473.7,498.7 475.7,498.7 477.7,498.7 479.7,498.7 481.7,498.8 483.7,498.8 485.7,498.8 487.7,498.8 489.7,498.8 491.7,498.8 493.7,498.9 495.7,498.9 497.7,498.9 499.7,498.9 501.7,498.9 503.7,498.9 505.7,499.0 507.7,499.0 509.7,499.0 511.7,499.0 513.7,499.0 515.7,499.1 517.7,499.1 519.7,499.1 521.7,499.1 523.7,499.2 525.7,499.2 527.7,499.2 529.7,499.2 531.7,499.3 533.7,499.3 535.7,499.3 537.7,499.4 539.7,499.4 541.7,499.4 543.7,499.4 545.7,499.5 547.7,499.5 549.7,499.5 551.7,499.6 553.7,499.6 555.7,499.6 557.7,499.6 559.7,499.7 561.7,499.7 563.7,499.7 565.7,499.7 567.7,499.8 569.7,499.8 571.7,499.8 573.7,499.8 575.7,499.9 577.7,499.9 579.7,499.9 581.7,499.9 583.7,499.9 585.7,500.0 587.7,500.0 589.7,500.0 591.7,500.0 593.7,500.0 595.7,500.0 597.7,500.1 599.7,500.1 601.7,500.1 603.7,500.1 605.7,500.1 607.7,500.1 609.7,500.1 611.7,500.2 613.7,500.2 615.7,500.2 617.7,500.2 619.7,500.2 621.7,500.2 623.7,500.2 625.7,500.2 627.7,500.2 629.7,500.3 631.7,500.3 633.7,500.3 635.7,500.3 637.7,500.3 639.7,500.3 640.9,500.3 640.9,501.1 87.7,501.1" fill="#0000ff" stroke="#000" stroke-width="1" stroke-linejoin="round"/>
<polyline points="87.7,17.0 89.7,18.3 91.7,19.6 93.7,20.8 95.7,22.0 97.7,23.1 99.7,24.2 101.7,25.3 103.7,26.3 105.7,27.4 107.7,28.5 109.7,29.6 111.7,30.7 113.7,31.8 115.7,33.0 117.7,34.2 119.7,35.5 121.7,36.8 123.7,38.2 125.7,39.7 127.7,41.3 129.7,43.0 131.7,44.8 133.7,46.6 135.7,48.6 137.7,50.7 139.7,52.8 141.7,55.0 143.7,57.3 145.7,59.7 147.7,62.1 149.7,64.5 151.7,67.0 153.7,69.5 155.7,72.0 157.7,74.6 159.7,77.2 161.7,79.9 163.7,82.6 165.7,85.3 167.7,88.1 169.7,90.8 171.7,93.6 173.7,96.4 175.7,99.2 177.7,101.9 179.7,104.7 181.7,107.4 183.7,110.2 185.7,112.9 187.7,115.6 189.7,118.3 191.7,120.9 193.7,123.6 195.7,126.2 197.7,128.9 199.7,131.5 201.7,134.0 203.7,136.6 205.7,139.1 207.7,141.6 209.7,144.1 211.7,146.6 213.7,149.0 215.7,151.5 217.7,153.9 219.7,156.3 221.7,158.6 223.7,161.0 225.7,163.3 227.7,165.6 229.7,167.9 231.7,170.1 233.7,172.4 235.7,174.6 237.7,176.8 239.7,179.0 241.7,181.1 243.7,183.3 245.7,185.4 247.7,187.5 249.7,189.6 251.7,191.7 253.7,193.7 255.7,195.7 257.7,197.7 259.7,199.7 261.7,201.7 263.7,203.7 265.7,205.6 267.7,207.6 269.7,209.5 271.7,211.4 273.7,213.3 275.7,215.1 277.7,217.0 279.7,218.8 281.7,220.6 283.7,222.4 285.7,224.2 287.7,225.9 289.7,227.6 291.7,229.4 293.7,231.1 295.7,232.7 297.7,234.4 299.7,236.0 301.7,237.6 303.7,239.2 305.7,240.8 307.7,242.3 309.7,243.9 311.7,245.4 313.7,246.9 315.7,248.3 317.7,249.8 319.7,251.2 321.7,252.6 323.7,254.0 325.7,255.4 327.7,256.7 329.7,258.1 331.7,259.4 333.7,260.7 335.7,262.0 337.7,263.3 339.7,264.6 341.7,265.9 343.7,267.1 345.7,268.4 347.7,269.6 349.7,270.9 351.7,272.1 353.7,273.3 355.7,274.5 357.7,275.7 359.7,276.9 361.7,278.1 363.7,279.2 365.7,280.4 367.7,281.5 369.7,282.6 371.7,283.7 373.7,284.8 375.7,285.9 377.7,287.0 379.7,288.1 381.7,289.1 383.7,290.1 385.7,291.2 387.7,292.2 389.7,293.1 391.7,294.1 393.7,295.1 395.7,296.0 397.7,297.0 399.7,297.9 401.7,298.8 403.7,299.7 405.7,300.5 407.7,301.4 409.7,302.2 411.7,303.1 413.7,303.9 415.7,304.7 417.7,305.5 419.7,306.3 421.7,307.1 423.7,307.8 425.7,308.6 427.7,309.3 429.7,310.1 431.7,310.8 433.7,311.5 435.7,312.2 437.7,312.9 439.7,313.6 441.7,314.3 443.7,315.0 445.7,315.7 447.7,316.3 449.7,317.0 451.7,317.6 453.7,318.3 455.7,318.9 457.7,319.6 459.7,320.2 461.7,320.8 463.7,321.4 465.7,322.0 467.7,322.6 469.7,323.2 471.7,323.8 473.7,324.4 475.7,325.0 477.7,325.6 479.7,326.1 481.7,326.7 483.7,327.2 485.7,327.8 487.7,328.3 489.7,328.9 491.7,329.4 493.7,330.0 495.7,330.5 497.7,331.0 499.7,331.5 501.7,332.0 503.7,332.5 505.7,333.0 507.7,333.5 509.7,334.0 511.7,334.5 513.7,335.0 515.7,335.5 517.7,336.0 519.7,336.5 521.7,336.9 523.7,337.4 525.7,337.9 527.7,338.3 529.7,338.8 531.7,339.3 533.7,339.7 535.7,340.2 537.7,340.6 539.7,341.0 541.7,341.5 543.7,341.9 545.7,342.4 547.7,342.8 549.7,343.2 551.7,343.6 553.7,344.1 555.7,344.5 557.7,344.9 559.7,345.3 561.7,345.7 563.7,346.1 565.7,346.5 567.7,346.9 569.7,347.3 571.7,347.7 573.7,348.1 575.7,348.5 577.7,348.9 579.7,349.3 581.7,349.6 583.7,350.0 585.7,350.4 587.7,350.8 589.7,351.1 591.7,351.5 593.7,351.9 595.7,352.2 597.7,352.6 599.7,352.9 601.7,353.3 603.7,353.6 605.7,354.0 607.7,354.3 609.7,354.7 611.7,355.0 613.7,355.3 615.7,355.7 617.7,356.0 619.7,356.3 621.7,356.7 623.7,357.0 625.7,357.3 627.7,357.6 629.7,358.0 631.7,358.3 633.7,358.6 635.7,358.9 637.7,359.2 639.7,359.5 640.9,359.7" fill="none" stroke="#000" stroke-width="5.8" stroke-linejoin="round"/>
<path d="M86.3,16.9H709.1" stroke="#000" stroke-width="2.5" fill="none"/>
<path d="M86.3,501.1H709.1" stroke="#000" stroke-width="3.3" fill="none"/>
<path d="M87.7,15.7V502.7" stroke="#000" stroke-width="2.8" fill="none"/>
<path d="M707.8,15.7V502.7" stroke="#000" stroke-width="2.6" fill="none"/>
<path d="M255.3,501.1v-7.2M255.3,16.9v7.2" stroke="#000" stroke-width="2.9"/>
<path d="M422.9,501.1v-7.2M422.9,16.9v7.2" stroke="#000" stroke-width="2.9"/>
<path d="M590.5,501.1v-7.2M590.5,16.9v7.2" stroke="#000" stroke-width="2.9"/>
<path d="M87.7,404.2h7.2M707.8,404.2h-7.2" stroke="#000" stroke-width="2.9"/>
<path d="M87.7,307.4h7.2M707.8,307.4h-7.2" stroke="#000" stroke-width="2.9"/>
<path d="M87.7,210.6h7.2M707.8,210.6h-7.2" stroke="#000" stroke-width="2.9"/>
<path d="M87.7,113.7h7.2M707.8,113.7h-7.2" stroke="#000" stroke-width="2.9"/>
<polygon points="87.7,624.9 89.7,624.9 91.7,624.9 93.7,624.9 95.7,624.9 97.7,625.0 99.7,625.0 101.7,625.0 103.7,625.0 105.7,625.0 107.7,625.0 109.7,625.0 111.7,625.1 113.7,625.1 115.7,625.1 117.7,625.1 119.7,625.1 121.7,625.1 123.7,625.2 125.7,625.2 127.7,625.2 129.7,625.2 131.7,625.2 133.7,625.2 135.7,625.3 137.7,625.3 139.7,625.3 141.7,625.3 143.7,625.3 145.7,625.4 147.7,625.4 149.7,625.4 151.7,625.4 153.7,625.4 155.7,625.5 157.7,625.5 159.7,625.5 161.7,625.5 163.7,625.5 165.7,625.6 167.7,625.6 169.7,625.6 171.7,625.6 173.7,625.7 175.7,625.7 177.7,625.7 179.7,625.8 181.7,625.8 183.7,625.8 185.7,625.8 187.7,625.9 189.7,625.9 191.7,625.9 193.7,625.9 195.7,626.0 197.7,626.0 199.7,626.0 201.7,626.1 203.7,626.1 205.7,626.1 207.7,626.1 209.7,626.2 211.7,626.2 213.7,626.2 215.7,626.2 217.7,626.3 219.7,626.3 221.7,626.3 223.7,626.3 225.7,626.4 227.7,626.4 229.7,626.4 231.7,626.4 233.7,626.5 235.7,626.5 237.7,626.5 239.7,626.6 241.7,626.6 243.7,626.6 245.7,626.6 247.7,626.7 249.7,626.7 251.7,626.7 253.7,626.7 255.7,626.8 257.7,626.8 259.7,626.8 261.7,626.9 263.7,626.9 265.7,626.9 267.7,626.9 269.7,627.0 271.7,627.0 273.7,627.0 275.7,627.0 277.7,627.1 279.7,627.1 281.7,627.1 283.7,627.1 285.7,627.2 287.7,627.2 289.7,627.2 291.7,627.2 293.7,627.2 295.7,627.3 297.7,627.3 299.7,627.3 301.7,627.3 303.7,627.3 305.7,627.4 307.7,627.4 309.7,627.4 311.7,627.4 313.7,627.5 315.7,627.5 317.7,627.5 319.7,627.5 321.7,627.5 323.7,627.6 325.7,627.6 327.7,627.6 329.7,627.6 331.7,627.6 333.7,627.7 335.7,627.7 337.7,627.7 339.7,627.7 341.7,627.7 343.7,627.8 345.7,627.8 347.7,627.8 349.7,627.8 351.7,627.8 353.7,627.9 355.7,627.9 357.7,627.9 359.7,627.9 361.7,627.9 363.7,627.9 365.7,628.0 367.7,628.0 369.7,628.0 371.7,628.0 373.7,628.0 375.7,628.0 377.7,628.1 379.7,628.1 381.7,628.1 383.7,628.1 385.7,628.1 387.7,628.1 389.7,628.1 391.7,628.2 393.7,628.2 395.7,628.2 397.7,628.2 399.7,628.2 401.7,628.2 403.7,628.2 405.7,628.2 407.7,628.2 409.7,628.3 411.7,628.3 413.7,628.3 415.7,628.3 417.7,628.3 419.7,628.3 421.7,628.3 423.7,628.3 425.7,628.3 427.7,628.3 429.7,628.4 431.7,628.4 433.7,628.4 435.7,628.4 437.7,628.4 439.7,628.4 441.7,628.4 443.7,628.4 445.7,628.4 447.7,628.4 449.7,628.4 451.7,628.4 453.7,628.5 455.7,628.5 457.7,628.5 459.7,628.5 461.7,628.5 463.7,628.5 465.7,628.5 467.7,628.5 469.7,628.5 471.7,628.5 473.7,628.5 475.7,628.5 477.7,628.5 479.7,628.5 481.7,628.6 483.7,628.6 485.7,628.6 487.7,628.6 489.7,628.6 491.7,628.6 493.7,628.6 495.7,628.6 497.7,628.6 499.7,628.6 501.7,628.6 503.7,628.6 505.7,628.6 507.7,628.6 509.7,628.6 511.7,628.6 513.7,628.6 515.7,628.6 517.7,628.6 519.7,628.6 521.7,628.6 523.7,628.7 525.7,628.7 527.7,628.7 529.7,628.7 531.7,628.7 533.7,628.7 535.7,628.7 537.7,628.7 539.7,628.7 541.7,628.7 543.7,628.7 545.7,628.7 547.7,628.7 549.7,628.7 551.7,628.7 553.7,628.7 555.7,628.7 557.7,628.7 559.7,628.7 561.7,628.7 563.7,628.7 565.7,628.7 567.7,628.7 569.7,628.7 571.7,628.7 573.7,628.7 575.7,628.7 577.7,628.7 579.7,628.8 581.7,628.8 583.7,628.8 585.7,628.8 587.7,628.8 589.7,628.8 591.7,628.8 593.7,628.8 595.7,628.8 597.7,628.8 599.7,628.8 601.7,628.8 603.7,628.8 605.7,628.8 607.7,628.8 609.7,628.8 611.7,628.8 613.7,628.8 615.7,628.8 617.7,628.8 619.7,628.8 621.7,628.8 623.7,628.8 625.7,628.8 627.7,628.8 629.7,628.8 631.7,628.8 633.7,628.8 635.7,628.8 637.7,628.8 639.7,628.8 640.9,628.8 640.9,861.0 639.7,860.9 637.7,860.8 635.7,860.6 633.7,860.4 631.7,860.3 629.7,860.1 627.7,860.0 625.7,859.8 623.7,859.7 621.7,859.5 619.7,859.3 617.7,859.2 615.7,859.0 613.7,858.9 611.7,858.7 609.7,858.6 607.7,858.4 605.7,858.2 603.7,858.1 601.7,857.9 599.7,857.8 597.7,857.6 595.7,857.4 593.7,857.3 591.7,857.1 589.7,857.0 587.7,856.8 585.7,856.6 583.7,856.5 581.7,856.3 579.7,856.1 577.7,856.0 575.7,855.8 573.7,855.6 571.7,855.4 569.7,855.3 567.7,855.1 565.7,854.9 563.7,854.7 561.7,854.6 559.7,854.4 557.7,854.2 555.7,854.0 553.7,853.8 551.7,853.7 549.7,853.5 547.7,853.3 545.7,853.1 543.7,852.9 541.7,852.7 539.7,852.5 537.7,852.3 535.7,852.1 533.7,851.9 531.7,851.7 529.7,851.5 527.7,851.3 525.7,851.1 523.7,850.9 521.7,850.6 519.7,850.4 517.7,850.2 515.7,850.0 513.7,849.8 511.7,849.5 509.7,849.3 507.7,849.1 505.7,848.8 503.7,848.6 501.7,848.4 499.7,848.1 497.7,847.9 495.7,847.6 493.7,847.4 491.7,847.1 489.7,846.9 487.7,846.6 485.7,846.4 483.7,846.1 481.7,845.8 479.7,845.6 477.7,845.3 475.7,845.0 473.7,844.7 471.7,844.4 469.7,844.2 467.7,843.9 465.7,843.6 463.7,843.3 461.7,843.0 459.7,842.7 457.7,842.4 455.7,842.1 453.7,841.7 451.7,841.4 449.7,841.1 447.7,840.8 445.7,840.4 443.7,840.1 441.7,839.8 439.7,839.4 437.7,839.1 435.7,838.7 433.7,838.4 431.7,838.0 429.7,837.7 427.7,837.3 425.7,836.9 423.7,836.6 421.7,836.2 419.7,835.8 417.7,835.4 415.7,835.0 413.7,834.6 411.7,834.2 409.7,833.8 407.7,833.4 405.7,833.0 403.7,832.6 401.7,832.2 399.7,831.7 397.7,831.3 395.7,830.9 393.7,830.4 391.7,830.0 389.7,829.5 387.7,829.1 385.7,828.6 383.7,828.1 381.7,827.6 379.7,827.2 377.7,826.7 375.7,826.2 373.7,825.7 371.7,825.2 369.7,824.7 367.7,824.2 365.7,823.7 363.7,823.2 361.7,822.6 359.7,822.1 357.7,821.6 355.7,821.0 353.7,820.5 351.7,819.9 349.7,819.3 347.7,818.7 345.7,818.1 343.7,817.5 341.7,816.8 339.7,816.2 337.7,815.5 335.7,814.8 333.7,814.1 331.7,813.3 329.7,812.6 327.7,811.7 325.7,810.9 323.7,810.1 321.7,809.2 319.7,808.3 317.7,807.4 315.7,806.4 313.7,805.5 311.7,804.5 309.7,803.5 307.7,802.5 305.7,801.4 303.7,800.4 301.7,799.3 299.7,798.2 297.7,797.1 295.7,796.0 293.7,794.9 291.7,793.8 289.7,792.7 287.7,791.7 285.7,790.6 283.7,789.5 281.7,788.4 279.7,787.3 277.7,786.2 275.7,785.1 273.7,784.0 271.7,782.8 269.7,781.6 267.7,780.4 265.7,779.1 263.7,777.9 261.7,776.5 259.7,775.2 257.7,773.9 255.7,772.5 253.7,771.1 251.7,769.6 249.7,768.2 247.7,766.7 245.7,765.2 243.7,763.7 241.7,762.1 239.7,760.6 237.7,759.0 235.7,757.4 233.7,755.8 231.7,754.2 229.7,752.5 227.7,750.9 225.7,749.2 223.7,747.5 221.7,745.8 219.7,744.1 217.7,742.3 215.7,740.6 213.7,738.8 211.7,737.0 209.7,735.2 207.7,733.4 205.7,731.5 203.7,729.6 201.7,727.6 199.7,725.7 197.7,723.7 195.7,721.6 193.7,719.5 191.7,717.4 189.7,715.2 187.7,713.0 185.7,710.8 183.7,708.5 181.7,706.2 179.7,703.8 177.7,701.5 175.7,699.1 173.7,696.8 171.7,694.4 169.7,692.0 167.7,689.6 165.7,687.2 163.7,684.8 161.7,682.4 159.7,680.1 157.7,677.7 155.7,675.4 153.7,673.1 151.7,670.9 149.7,668.6 147.7,666.4 145.7,664.3 143.7,662.2 141.7,660.1 139.7,658.1 137.7,656.2 135.7,654.3 133.7,652.4 131.7,650.7 129.7,649.0 127.7,647.4 125.7,645.9 123.7,644.5 121.7,643.2 119.7,642.0 117.7,640.9 115.7,639.8 113.7,638.7 111.7,637.8 109.7,636.8 107.7,635.9 105.7,634.9 103.7,634.0 101.7,633.0 99.7,632.1 97.7,631.1 95.7,630.0 93.7,628.9 91.7,627.7 89.7,626.4 87.7,625.0" fill="#6483e8" stroke="#000" stroke-width="1" stroke-linejoin="round"/>
<polygon points="87.7,625.0 89.7,626.4 91.7,627.7 93.7,628.9 95.7,630.0 97.7,631.1 99.7,632.1 101.7,633.0 103.7,634.0 105.7,634.9 107.7,635.9 109.7,636.8 111.7,637.8 113.7,638.7 115.7,639.8 117.7,640.9 119.7,642.0 121.7,643.2 123.7,644.5 125.7,645.9 127.7,647.4 129.7,649.0 131.7,650.7 133.7,652.4 135.7,654.3 137.7,656.2 139.7,658.1 141.7,660.1 143.7,662.2 145.7,664.3 147.7,666.4 149.7,668.6 151.7,670.9 153.7,673.1 155.7,675.4 157.7,677.7 159.7,680.1 161.7,682.4 163.7,684.8 165.7,687.2 167.7,689.6 169.7,692.0 171.7,694.4 173.7,696.8 175.7,699.1 177.7,701.5 179.7,703.8 181.7,706.2 183.7,708.5 185.7,710.8 187.7,713.0 189.7,715.2 191.7,717.4 193.7,719.5 195.7,721.6 197.7,723.7 199.7,725.7 201.7,727.6 203.7,729.6 205.7,731.5 207.7,733.4 209.7,735.2 211.7,737.0 213.7,738.8 215.7,740.6 217.7,742.3 219.7,744.1 221.7,745.8 223.7,747.5 225.7,749.2 227.7,750.9 229.7,752.5 231.7,754.2 233.7,755.8 235.7,757.4 237.7,759.0 239.7,760.6 241.7,762.1 243.7,763.7 245.7,765.2 247.7,766.7 249.7,768.2 251.7,769.6 253.7,771.1 255.7,772.5 257.7,773.9 259.7,775.2 261.7,776.5 263.7,777.9 265.7,779.1 267.7,780.4 269.7,781.6 271.7,782.8 273.7,784.0 275.7,785.1 277.7,786.2 279.7,787.3 281.7,788.4 283.7,789.5 285.7,790.6 287.7,791.7 289.7,792.7 291.7,793.8 293.7,794.9 295.7,796.0 297.7,797.1 299.7,798.2 301.7,799.3 303.7,800.4 305.7,801.4 307.7,802.5 309.7,803.5 311.7,804.5 313.7,805.5 315.7,806.4 317.7,807.4 319.7,808.3 321.7,809.2 323.7,810.1 325.7,810.9 327.7,811.7 329.7,812.6 331.7,813.3 333.7,814.1 335.7,814.8 337.7,815.5 339.7,816.2 341.7,816.8 343.7,817.5 345.7,818.1 347.7,818.7 349.7,819.3 351.7,819.9 353.7,820.5 355.7,821.0 357.7,821.6 359.7,822.1 361.7,822.6 363.7,823.2 365.7,823.7 367.7,824.2 369.7,824.7 371.7,825.2 373.7,825.7 375.7,826.2 377.7,826.7 379.7,827.2 381.7,827.6 383.7,828.1 385.7,828.6 387.7,829.1 389.7,829.5 391.7,830.0 393.7,830.4 395.7,830.9 397.7,831.3 399.7,831.7 401.7,832.2 403.7,832.6 405.7,833.0 407.7,833.4 409.7,833.8 411.7,834.2 413.7,834.6 415.7,835.0 417.7,835.4 419.7,835.8 421.7,836.2 423.7,836.6 425.7,836.9 427.7,837.3 429.7,837.7 431.7,838.0 433.7,838.4 435.7,838.7 437.7,839.1 439.7,839.4 441.7,839.8 443.7,840.1 445.7,840.4 447.7,840.8 449.7,841.1 451.7,841.4 453.7,841.7 455.7,842.1 457.7,842.4 459.7,842.7 461.7,843.0 463.7,843.3 465.7,843.6 467.7,843.9 469.7,844.2 471.7,844.4 473.7,844.7 475.7,845.0 477.7,845.3 479.7,845.6 481.7,845.8 483.7,846.1 485.7,846.4 487.7,846.6 489.7,846.9 491.7,847.1 493.7,847.4 495.7,847.6 497.7,847.9 499.7,848.1 501.7,848.4 503.7,848.6 505.7,848.8 507.7,849.1 509.7,849.3 511.7,849.5 513.7,849.8 515.7,850.0 517.7,850.2 519.7,850.4 521.7,850.6 523.7,850.9 525.7,851.1 527.7,851.3 529.7,851.5 531.7,851.7 533.7,851.9 535.7,852.1 537.7,852.3 539.7,852.5 541.7,852.7 543.7,852.9 545.7,853.1 547.7,853.3 549.7,853.5 551.7,853.7 553.7,853.8 555.7,854.0 557.7,854.2 559.7,854.4 561.7,854.6 563.7,854.7 565.7,854.9 567.7,855.1 569.7,855.3 571.7,855.4 573.7,855.6 575.7,855.8 577.7,856.0 579.7,856.1 581.7,856.3 583.7,856.5 585.7,856.6 587.7,856.8 589.7,857.0 591.7,857.1 593.7,857.3 595.7,857.4 597.7,857.6 599.7,857.8 601.7,857.9 603.7,858.1 605.7,858.2 607.7,858.4 609.7,858.6 611.7,858.7 613.7,858.9 615.7,859.0 617.7,859.2 619.7,859.3 621.7,859.5 623.7,859.7 625.7,859.8 627.7,860.0 629.7,860.1 631.7,860.3 633.7,860.4 635.7,860.6 637.7,860.8 639.7,860.9 640.9,861.0 640.9,967.7 639.7,967.5 637.7,967.2 635.7,966.9 633.7,966.6 631.7,966.3 629.7,966.0 627.7,965.6 625.7,965.3 623.7,965.0 621.7,964.7 619.7,964.3 617.7,964.0 615.7,963.7 613.7,963.3 611.7,963.0 609.7,962.7 607.7,962.3 605.7,962.0 603.7,961.6 601.7,961.3 599.7,960.9 597.7,960.6 595.7,960.2 593.7,959.9 591.7,959.5 589.7,959.1 587.7,958.8 585.7,958.4 583.7,958.0 581.7,957.6 579.7,957.3 577.7,956.9 575.7,956.5 573.7,956.1 571.7,955.7 569.7,955.3 567.7,954.9 565.7,954.5 563.7,954.1 561.7,953.7 559.7,953.3 557.7,952.9 555.7,952.5 553.7,952.1 551.7,951.6 549.7,951.2 547.7,950.8 545.7,950.4 543.7,949.9 541.7,949.5 539.7,949.0 537.7,948.6 535.7,948.2 533.7,947.7 531.7,947.3 529.7,946.8 527.7,946.3 525.7,945.9 523.7,945.4 521.7,944.9 519.7,944.5 517.7,944.0 515.7,943.5 513.7,943.0 511.7,942.5 509.7,942.0 507.7,941.5 505.7,941.0 503.7,940.5 501.7,940.0 499.7,939.5 497.7,939.0 495.7,938.5 493.7,938.0 491.7,937.4 489.7,936.9 487.7,936.3 485.7,935.8 483.7,935.2 481.7,934.7 479.7,934.1 477.7,933.6 475.7,933.0 473.7,932.4 471.7,931.8 469.7,931.2 467.7,930.6 465.7,930.0 463.7,929.4 461.7,928.8 459.7,928.2 457.7,927.6 455.7,926.9 453.7,926.3 451.7,925.6 449.7,925.0 447.7,924.3 445.7,923.7 443.7,923.0 441.7,922.3 439.7,921.6 437.7,920.9 435.7,920.2 433.7,919.5 431.7,918.8 429.7,918.1 427.7,917.3 425.7,916.6 423.7,915.8 421.7,915.1 419.7,914.3 417.7,913.5 415.7,912.7 413.7,911.9 411.7,911.1 409.7,910.2 407.7,909.4 405.7,908.5 403.7,907.7 401.7,906.8 399.7,905.9 397.7,905.0 395.7,904.0 393.7,903.1 391.7,902.1 389.7,901.1 387.7,900.2 385.7,899.2 383.7,898.1 381.7,897.1 379.7,896.1 377.7,895.0 375.7,893.9 373.7,892.8 371.7,891.7 369.7,890.6 367.7,889.5 365.7,888.4 363.7,887.2 361.7,886.1 359.7,884.9 357.7,883.7 355.7,882.5 353.7,881.3 351.7,880.1 349.7,878.9 347.7,877.6 345.7,876.4 343.7,875.1 341.7,873.9 339.7,872.6 337.7,871.3 335.7,870.0 333.7,868.7 331.7,867.4 329.7,866.1 327.7,864.7 325.7,863.4 323.7,862.0 321.7,860.6 319.7,859.2 317.7,857.8 315.7,856.3 313.7,854.9 311.7,853.4 309.7,851.9 307.7,850.3 305.7,848.8 303.7,847.2 301.7,845.6 299.7,844.0 297.7,842.4 295.7,840.7 293.7,839.1 291.7,837.4 289.7,835.6 287.7,833.9 285.7,832.2 283.7,830.4 281.7,828.6 279.7,826.8 277.7,825.0 275.7,823.1 273.7,821.3 271.7,819.4 269.7,817.5 267.7,815.6 265.7,813.6 263.7,811.7 261.7,809.7 259.7,807.7 257.7,805.7 255.7,803.7 253.7,801.7 251.7,799.7 249.7,797.6 247.7,795.5 245.7,793.4 243.7,791.3 241.7,789.1 239.7,787.0 237.7,784.8 235.7,782.6 233.7,780.4 231.7,778.1 229.7,775.9 227.7,773.6 225.7,771.3 223.7,769.0 221.7,766.6 219.7,764.3 217.7,761.9 215.7,759.5 213.7,757.0 211.7,754.6 209.7,752.1 207.7,749.6 205.7,747.1 203.7,744.6 201.7,742.0 199.7,739.5 197.7,736.9 195.7,734.2 193.7,731.6 191.7,728.9 189.7,726.3 187.7,723.6 185.7,720.9 183.7,718.2 181.7,715.4 179.7,712.7 177.7,709.9 175.7,707.2 173.7,704.4 171.7,701.6 169.7,698.8 167.7,696.1 165.7,693.3 163.7,690.6 161.7,687.9 159.7,685.2 157.7,682.6 155.7,680.0 153.7,677.5 151.7,675.0 149.7,672.5 147.7,670.1 145.7,667.7 143.7,665.3 141.7,663.0 139.7,660.8 137.7,658.7 135.7,656.6 133.7,654.6 131.7,652.8 129.7,651.0 127.7,649.3 125.7,647.7 123.7,646.2 121.7,644.8 119.7,643.5 117.7,642.2 115.7,641.0 113.7,639.8 111.7,638.7 109.7,637.6 107.7,636.5 105.7,635.4 103.7,634.3 101.7,633.3 99.7,632.2 97.7,631.1 95.7,630.0 93.7,628.8 91.7,627.6 89.7,626.3 87.7,625.0" fill="#e0624f" stroke="#000" stroke-width="1" stroke-linejoin="round"/>
<polygon points="87.7,625.0 89.7,626.3 91.7,627.6 93.7,628.8 95.7,630.0 97.7,631.1 99.7,632.2 101.7,633.3 103.7,634.3 105.7,635.4 107.7,636.5 109.7,637.6 111.7,638.7 113.7,639.8 115.7,641.0 117.7,642.2 119.7,643.5 121.7,644.8 123.7,646.2 125.7,647.7 127.7,649.3 129.7,651.0 131.7,652.8 133.7,654.6 135.7,656.6 137.7,658.7 139.7,660.8 141.7,663.0 143.7,665.3 145.7,667.7 147.7,670.1 149.7,672.5 151.7,675.0 153.7,677.5 155.7,680.0 157.7,682.6 159.7,685.2 161.7,687.9 163.7,690.6 165.7,693.3 167.7,696.1 169.7,698.8 171.7,701.6 173.7,704.4 175.7,707.2 177.7,709.9 179.7,712.7 181.7,715.4 183.7,718.2 185.7,720.9 187.7,723.6 189.7,726.3 191.7,728.9 193.7,731.6 195.7,734.2 197.7,736.9 199.7,739.5 201.7,742.0 203.7,744.6 205.7,747.1 207.7,749.6 209.7,752.1 211.7,754.6 213.7,757.0 215.7,759.5 217.7,761.9 219.7,764.3 221.7,766.6 223.7,769.0 225.7,771.3 227.7,773.6 229.7,775.9 231.7,778.1 233.7,780.4 235.7,782.6 237.7,784.8 239.7,787.0 241.7,789.1 243.7,791.3 245.7,793.4 247.7,795.5 249.7,797.6 251.7,799.7 253.7,801.7 255.7,803.7 257.7,805.7 259.7,807.7 261.7,809.7 263.7,811.7 265.7,813.6 267.7,815.6 269.7,817.5 271.7,819.4 273.7,821.3 275.7,823.1 277.7,825.0 279.7,826.8 281.7,828.6 283.7,830.4 285.7,832.2 287.7,833.9 289.7,835.6 291.7,837.4 293.7,839.1 295.7,840.7 297.7,842.4 299.7,844.0 301.7,845.6 303.7,847.2 305.7,848.8 307.7,850.3 309.7,851.9 311.7,853.4 313.7,854.9 315.7,856.3 317.7,857.8 319.7,859.2 321.7,860.6 323.7,862.0 325.7,863.4 327.7,864.7 329.7,866.1 331.7,867.4 333.7,868.7 335.7,870.0 337.7,871.3 339.7,872.6 341.7,873.9 343.7,875.1 345.7,876.4 347.7,877.6 349.7,878.9 351.7,880.1 353.7,881.3 355.7,882.5 357.7,883.7 359.7,884.9 361.7,886.1 363.7,887.2 365.7,888.4 367.7,889.5 369.7,890.6 371.7,891.7 373.7,892.8 375.7,893.9 377.7,895.0 379.7,896.1 381.7,897.1 383.7,898.1 385.7,899.2 387.7,900.2 389.7,901.1 391.7,902.1 393.7,903.1 395.7,904.0 397.7,905.0 399.7,905.9 401.7,906.8 403.7,907.7 405.7,908.5 407.7,909.4 409.7,910.2 411.7,911.1 413.7,911.9 415.7,912.7 417.7,913.5 419.7,914.3 421.7,915.1 423.7,915.8 425.7,916.6 427.7,917.3 429.7,918.1 431.7,918.8 433.7,919.5 435.7,920.2 437.7,920.9 439.7,921.6 441.7,922.3 443.7,923.0 445.7,923.7 447.7,924.3 449.7,925.0 451.7,925.6 453.7,926.3 455.7,926.9 457.7,927.6 459.7,928.2 461.7,928.8 463.7,929.4 465.7,930.0 467.7,930.6 469.7,931.2 471.7,931.8 473.7,932.4 475.7,933.0 477.7,933.6 479.7,934.1 481.7,934.7 483.7,935.2 485.7,935.8 487.7,936.3 489.7,936.9 491.7,937.4 493.7,938.0 495.7,938.5 497.7,939.0 499.7,939.5 501.7,940.0 503.7,940.5 505.7,941.0 507.7,941.5 509.7,942.0 511.7,942.5 513.7,943.0 515.7,943.5 517.7,944.0 519.7,944.5 521.7,944.9 523.7,945.4 525.7,945.9 527.7,946.3 529.7,946.8 531.7,947.3 533.7,947.7 535.7,948.2 537.7,948.6 539.7,949.0 541.7,949.5 543.7,949.9 545.7,950.4 547.7,950.8 549.7,951.2 551.7,951.6 553.7,952.1 555.7,952.5 557.7,952.9 559.7,953.3 561.7,953.7 563.7,954.1 565.7,954.5 567.7,954.9 569.7,955.3 571.7,955.7 573.7,956.1 575.7,956.5 577.7,956.9 579.7,957.3 581.7,957.6 583.7,958.0 585.7,958.4 587.7,958.8 589.7,959.1 591.7,959.5 593.7,959.9 595.7,960.2 597.7,960.6 599.7,960.9 601.7,961.3 603.7,961.6 605.7,962.0 607.7,962.3 609.7,962.7 611.7,963.0 613.7,963.3 615.7,963.7 617.7,964.0 619.7,964.3 621.7,964.7 623.7,965.0 625.7,965.3 627.7,965.6 629.7,966.0 631.7,966.3 633.7,966.6 635.7,966.9 637.7,967.2 639.7,967.5 640.9,967.7 640.9,1028.4 639.7,1028.4 637.7,1028.4 635.7,1028.3 633.7,1028.3 631.7,1028.3 629.7,1028.2 627.7,1028.2 625.7,1028.2 623.7,1028.2 621.7,1028.1 619.7,1028.1 617.7,1028.0 615.7,1028.0 613.7,1027.9 611.7,1027.8 609.7,1027.6 607.7,1027.5 605.7,1027.3 603.7,1027.1 601.7,1026.9 599.7,1026.6 597.7,1026.3 595.7,1025.9 593.7,1025.4 591.7,1024.8 589.7,1024.0 587.7,1023.3 585.7,1022.5 583.7,1021.9 581.7,1021.3 579.7,1020.7 577.7,1020.2 575.7,1019.7 573.7,1019.5 571.7,1019.3 569.7,1019.1 567.7,1019.0 565.7,1018.9 563.7,1018.9 561.7,1018.9 559.7,1019.1 557.7,1019.2 555.7,1019.4 553.7,1019.5 551.7,1019.5 549.7,1019.5 547.7,1019.5 545.7,1019.5 543.7,1019.5 541.7,1019.5 539.7,1019.4 537.7,1019.1 535.7,1018.7 533.7,1018.4 531.7,1018.0 529.7,1017.7 527.7,1017.3 525.7,1016.9 523.7,1016.5 521.7,1016.0 519.7,1015.5 517.7,1014.8 515.7,1014.0 513.7,1013.2 511.7,1012.5 509.7,1011.8 507.7,1011.1 505.7,1010.4 503.7,1009.7 501.7,1009.1 499.7,1008.5 497.7,1008.0 495.7,1007.6 493.7,1007.2 491.7,1006.8 489.7,1006.6 487.7,1006.4 485.7,1006.4 483.7,1006.4 481.7,1006.4 479.7,1006.4 477.7,1006.4 475.7,1006.4 473.7,1006.4 471.7,1006.3 469.7,1006.2 467.7,1006.0 465.7,1005.9 463.7,1005.7 461.7,1005.4 459.7,1005.1 457.7,1004.7 455.7,1004.3 453.7,1003.8 451.7,1003.2 449.7,1002.5 447.7,1001.8 445.7,1001.0 443.7,1000.3 441.7,999.5 439.7,998.7 437.7,997.9 435.7,997.1 433.7,996.3 431.7,995.5 429.7,994.6 427.7,993.8 425.7,993.0 423.7,992.3 421.7,991.6 419.7,990.8 417.7,990.2 415.7,989.6 413.7,989.1 411.7,988.8 409.7,988.6 407.7,988.4 405.7,988.3 403.7,988.1 401.7,987.9 399.7,987.8 397.7,987.7 395.7,987.5 393.7,987.3 391.7,987.0 389.7,986.7 387.7,986.3 385.7,985.9 383.7,985.3 381.7,984.7 379.7,983.9 377.7,983.1 375.7,982.1 373.7,980.9 371.7,979.5 369.7,978.2 367.7,976.9 365.7,975.6 363.7,974.4 361.7,973.2 359.7,972.1 357.7,971.0 355.7,970.0 353.7,969.0 351.7,968.1 349.7,967.2 347.7,966.4 345.7,965.5 343.7,964.8 341.7,964.1 339.7,963.4 337.7,962.8 335.7,962.2 333.7,961.7 331.7,961.5 329.7,961.4 327.7,961.3 325.7,961.3 323.7,961.2 321.7,961.1 319.7,960.9 317.7,960.6 315.7,960.1 313.7,959.6 311.7,958.9 309.7,958.1 307.7,957.0 305.7,955.9 303.7,954.6 301.7,953.2 299.7,951.7 297.7,950.0 295.7,948.2 293.7,946.4 291.7,944.6 289.7,942.6 287.7,940.5 285.7,938.4 283.7,936.4 281.7,934.4 279.7,932.3 277.7,930.3 275.7,928.6 273.7,926.9 271.7,925.3 269.7,924.0 267.7,923.1 265.7,922.2 263.7,921.6 261.7,921.3 259.7,921.2 257.7,921.1 255.7,921.0 253.7,920.9 251.7,920.9 249.7,921.0 247.7,921.2 245.7,921.4 243.7,921.7 241.7,921.8 239.7,921.7 237.7,921.5 235.7,921.1 233.7,920.6 231.7,920.0 229.7,919.1 227.7,918.0 225.7,916.6 223.7,914.7 221.7,912.2 219.7,909.5 217.7,906.9 215.7,904.5 213.7,902.0 211.7,899.5 209.7,897.0 207.7,894.5 205.7,891.9 203.7,889.6 201.7,888.2 199.7,887.1 197.7,886.4 195.7,885.9 193.7,885.5 191.7,885.3 189.7,885.1 187.7,884.9 185.7,884.5 183.7,883.8 181.7,882.9 179.7,881.7 177.7,880.5 175.7,879.1 173.7,877.7 171.7,876.1 169.7,874.4 167.7,872.5 165.7,870.7 163.7,868.9 161.7,867.0 159.7,865.2 157.7,863.3 155.7,861.6 153.7,860.0 151.7,858.5 149.7,857.1 147.7,856.0 145.7,855.0 143.7,854.0 141.7,853.4 139.7,853.2 137.7,853.4 135.7,853.7 133.7,854.1 131.7,854.7 129.7,855.9 127.7,857.7 125.7,859.7 123.7,861.9 121.7,864.1 119.7,866.4 117.7,869.1 115.7,872.0 113.7,875.1 111.7,878.2 109.7,881.9 107.7,885.4 105.7,887.6 103.7,888.8 101.7,887.1 99.7,883.8 97.7,878.3 95.7,871.6 93.7,865.1 91.7,857.9 89.7,853.0 87.7,851.5" fill="#00ff00" stroke="#000" stroke-width="1" stroke-linejoin="round"/>
<polygon points="87.7,851.5 89.7,853.0 91.7,857.9 93.7,865.1 95.7,871.6 97.7,878.3 99.7,883.8 101.7,887.1 103.7,888.8 105.7,887.6 107.7,885.4 109.7,881.9 111.7,878.2 113.7,875.1 115.7,872.0 117.7,869.1 119.7,866.4 121.7,864.1 123.7,861.9 125.7,859.7 127.7,857.7 129.7,855.9 131.7,854.7 133.7,854.1 135.7,853.7 137.7,853.4 139.7,853.2 141.7,853.4 143.7,854.0 145.7,855.0 147.7,856.0 149.7,857.1 151.7,858.5 153.7,860.0 155.7,861.6 157.7,863.3 159.7,865.2 161.7,867.0 163.7,868.9 165.7,870.7 167.7,872.5 169.7,874.4 171.7,876.1 173.7,877.7 175.7,879.1 177.7,880.5 179.7,881.7 181.7,882.9 183.7,883.8 185.7,884.5 187.7,884.9 189.7,885.1 191.7,885.3 193.7,885.5 195.7,885.9 197.7,886.4 199.7,887.1 201.7,888.2 203.7,889.6 205.7,891.9 207.7,894.5 209.7,897.0 211.7,899.5 213.7,902.0 215.7,904.5 217.7,906.9 219.7,909.5 221.7,912.2 223.7,914.7 225.7,916.6 227.7,918.0 229.7,919.1 231.7,920.0 233.7,920.6 235.7,921.1 237.7,921.5 239.7,921.7 241.7,921.8 243.7,921.7 245.7,921.4 247.7,921.2 249.7,921.0 251.7,920.9 253.7,920.9 255.7,921.0 257.7,921.1 259.7,921.2 261.7,921.3 263.7,921.6 265.7,922.2 267.7,923.1 269.7,924.0 271.7,925.3 273.7,926.9 275.7,928.6 277.7,930.3 279.7,932.3 281.7,934.4 283.7,936.4 285.7,938.4 287.7,940.5 289.7,942.6 291.7,944.6 293.7,946.4 295.7,948.2 297.7,950.0 299.7,951.7 301.7,953.2 303.7,954.6 305.7,955.9 307.7,957.0 309.7,958.1 311.7,958.9 313.7,959.6 315.7,960.1 317.7,960.6 319.7,960.9 321.7,961.1 323.7,961.2 325.7,961.3 327.7,961.3 329.7,961.4 331.7,961.5 333.7,961.7 335.7,962.2 337.7,962.8 339.7,963.4 341.7,964.1 343.7,964.8 345.7,965.5 347.7,966.4 349.7,967.2 351.7,968.1 353.7,969.0 355.7,970.0 357.7,971.0 359.7,972.1 361.7,973.2 363.7,974.4 365.7,975.6 367.7,976.9 369.7,978.2 371.7,979.5 373.7,980.9 375.7,982.1 377.7,983.1 379.7,983.9 381.7,984.7 383.7,985.3 385.7,985.9 387.7,986.3 389.7,986.7 391.7,987.0 393.7,987.3 395.7,987.5 397.7,987.7 399.7,987.8 401.7,987.9 403.7,988.1 405.7,988.3 407.7,988.4 409.7,988.6 411.7,988.8 413.7,989.1 415.7,989.6 417.7,990.2 419.7,990.8 421.7,991.6 423.7,992.3 425.7,993.0 427.7,993.8 429.7,994.6 431.7,995.5 433.7,996.3 435.7,997.1 437.7,997.9 439.7,998.7 441.7,999.5 443.7,1000.3 445.7,1001.0 447.7,1001.8 449.7,1002.5 451.7,1003.2 453.7,1003.8 455.7,1004.3 457.7,1004.7 459.7,1005.1 461.7,1005.4 463.7,1005.7 465.7,1005.9 467.7,1006.0 469.7,1006.2 471.7,1006.3 473.7,1006.4 475.7,1006.4 477.7,1006.4 479.7,1006.4 481.7,1006.4 483.7,1006.4 485.7,1006.4 487.7,1006.4 489.7,1006.6 491.7,1006.8 493.7,1007.2 495.7,1007.6 497.7,1008.0 499.7,1008.5 501.7,1009.1 503.7,1009.7 505.7,1010.4 507.7,1011.1 509.7,1011.8 511.7,1012.5 513.7,1013.2 515.7,1014.0 517.7,1014.8 519.7,1015.5 521.7,1016.0 523.7,1016.5 525.7,1016.9 527.7,1017.3 529.7,1017.7 531.7,1018.0 533.7,1018.4 535.7,1018.7 537.7,1019.1 539.7,1019.4 541.7,1019.5 543.7,1019.5 545.7,1019.5 547.7,1019.5 549.7,1019.5 551.7,1019.5 553.7,1019.5 555.7,1019.4 557.7,1019.2 559.7,1019.1 561.7,1018.9 563.7,1018.9 565.7,1018.9 567.7,1019.0 569.7,1019.1 571.7,1019.3 573.7,1019.5 575.7,1019.7 577.7,1020.2 579.7,1020.7 581.7,1021.3 583.7,1021.9 585.7,1022.5 587.7,1023.3 589.7,1024.0 591.7,1024.8 593.7,1025.4 595.7,1025.9 597.7,1026.3 599.7,1026.6 601.7,1026.9 603.7,1027.1 605.7,1027.3 607.7,1027.5 609.7,1027.6 611.7,1027.8 613.7,1027.9 615.7,1028.0 617.7,1028.0 619.7,1028.1 621.7,1028.1 623.7,1028.2 625.7,1028.2 627.7,1028.2 629.7,1028.2 631.7,1028.3 633.7,1028.3 635.7,1028.3 637.7,1028.4 639.7,1028.4 640.9,1028.4 640.9,1030.0 639.7,1030.0 637.7,1030.0 635.7,1029.9 633.7,1029.9 631.7,1029.9 629.7,1029.8 627.7,1029.8 625.7,1029.8 623.7,1029.8 621.7,1029.7 619.7,1029.7 617.7,1029.6 615.7,1029.6 613.7,1029.5 611.7,1029.4 609.7,1029.2 607.7,1029.1 605.7,1028.9 603.7,1028.7 601.7,1028.5 599.7,1028.2 597.7,1027.9 595.7,1027.5 593.7,1027.0 591.7,1026.4 589.7,1025.6 587.7,1024.9 585.7,1024.1 583.7,1023.5 581.7,1022.9 579.7,1022.3 577.7,1021.8 575.7,1021.3 573.7,1021.1 571.7,1020.9 569.7,1020.7 567.7,1020.6 565.7,1020.5 563.7,1020.5 561.7,1020.5 559.7,1020.7 557.7,1020.8 555.7,1021.0 553.7,1021.1 551.7,1021.1 549.7,1021.1 547.7,1021.1 545.7,1021.1 543.7,1021.1 541.7,1021.1 539.7,1021.0 537.7,1020.7 535.7,1020.3 533.7,1020.0 531.7,1019.6 529.7,1019.3 527.7,1018.9 525.7,1018.5 523.7,1018.1 521.7,1017.6 519.7,1017.1 517.7,1016.4 515.7,1015.6 513.7,1014.8 511.7,1014.1 509.7,1013.4 507.7,1012.7 505.7,1012.0 503.7,1011.3 501.7,1010.7 499.7,1010.1 497.7,1009.6 495.7,1009.2 493.7,1008.8 491.7,1008.4 489.7,1008.2 487.7,1008.0 485.7,1008.0 483.7,1008.0 481.7,1008.0 479.7,1008.0 477.7,1008.0 475.7,1008.0 473.7,1008.0 471.7,1007.9 469.7,1007.8 467.7,1007.6 465.7,1007.5 463.7,1007.3 461.7,1007.0 459.7,1006.7 457.7,1006.3 455.7,1005.9 453.7,1005.4 451.7,1004.8 449.7,1004.1 447.7,1003.4 445.7,1002.6 443.7,1001.9 441.7,1001.1 439.7,1000.3 437.7,999.5 435.7,998.7 433.7,997.9 431.7,997.1 429.7,996.2 427.7,995.4 425.7,994.6 423.7,993.9 421.7,993.2 419.7,992.4 417.7,991.8 415.7,991.2 413.7,990.7 411.7,990.4 409.7,990.2 407.7,990.0 405.7,989.9 403.7,989.7 401.7,989.5 399.7,989.4 397.7,989.3 395.7,989.1 393.7,988.9 391.7,988.6 389.7,988.3 387.7,987.9 385.7,987.5 383.7,987.0 381.7,986.4 379.7,985.6 377.7,984.8 375.7,983.9 373.7,982.7 371.7,981.4 369.7,980.1 367.7,978.9 365.7,977.8 363.7,976.8 361.7,975.7 359.7,974.6 357.7,973.6 355.7,972.5 353.7,971.5 351.7,970.6 349.7,969.8 347.7,968.9 345.7,968.1 343.7,967.4 341.7,966.7 339.7,966.2 337.7,965.7 335.7,965.2 333.7,964.9 331.7,964.7 329.7,964.6 327.7,964.5 325.7,964.5 323.7,964.4 321.7,964.3 319.7,964.1 317.7,963.8 315.7,963.3 313.7,962.8 311.7,962.2 309.7,961.4 307.7,960.6 305.7,959.6 303.7,958.5 301.7,957.1 299.7,955.5 297.7,953.8 295.7,952.0 293.7,950.2 291.7,948.4 289.7,946.5 287.7,944.6 285.7,942.6 283.7,940.6 281.7,938.6 279.7,936.5 277.7,934.5 275.7,932.8 273.7,931.1 271.7,929.6 269.7,928.2 267.7,927.2 265.7,926.1 263.7,925.4 261.7,925.2 259.7,925.2 257.7,925.2 255.7,925.2 253.7,925.2 251.7,925.2 249.7,925.2 247.7,925.3 245.7,925.4 243.7,925.5 241.7,925.6 239.7,925.5 237.7,925.2 235.7,924.8 233.7,924.2 231.7,923.5 229.7,922.5 227.7,921.2 225.7,919.9 223.7,918.5 221.7,916.9 219.7,915.2 217.7,913.3 215.7,911.0 213.7,908.2 211.7,905.2 209.7,902.3 207.7,899.7 205.7,896.9 203.7,894.7 201.7,893.5 199.7,892.7 197.7,892.1 195.7,891.9 193.7,891.8 191.7,891.7 189.7,891.7 187.7,891.6 185.7,891.5 183.7,890.9 181.7,889.8 179.7,888.3 177.7,886.6 175.7,884.9 173.7,883.3 171.7,881.5 169.7,879.7 167.7,877.8 165.7,876.0 163.7,874.2 161.7,872.6 159.7,870.9 157.7,869.3 155.7,867.8 153.7,866.3 151.7,864.8 149.7,863.4 147.7,862.3 145.7,861.4 143.7,860.5 141.7,859.9 139.7,859.8 137.7,859.9 135.7,860.0 133.7,860.1 131.7,860.4 129.7,861.3 127.7,862.7 125.7,864.4 123.7,866.3 121.7,868.2 119.7,870.4 117.7,873.0 115.7,875.9 113.7,878.9 111.7,882.0 109.7,885.6 107.7,888.8 105.7,890.9 103.7,891.9 101.7,889.9 99.7,886.2 97.7,880.6 95.7,873.9 93.7,867.3 91.7,860.2 89.7,855.2 87.7,853.5" fill="#00ffff" stroke="#000" stroke-width="1" stroke-linejoin="round"/>
<polygon points="87.7,853.5 89.7,855.2 91.7,860.2 93.7,867.3 95.7,873.9 97.7,880.6 99.7,886.2 101.7,889.9 103.7,891.9 105.7,890.9 107.7,888.8 109.7,885.6 111.7,882.0 113.7,878.9 115.7,875.9 117.7,873.0 119.7,870.4 121.7,868.2 123.7,866.3 125.7,864.4 127.7,862.7 129.7,861.3 131.7,860.4 133.7,860.1 135.7,860.0 137.7,859.9 139.7,859.8 141.7,859.9 143.7,860.5 145.7,861.4 147.7,862.3 149.7,863.4 151.7,864.8 153.7,866.3 155.7,867.8 157.7,869.3 159.7,870.9 161.7,872.6 163.7,874.2 165.7,876.0 167.7,877.8 169.7,879.7 171.7,881.5 173.7,883.3 175.7,884.9 177.7,886.6 179.7,888.3 181.7,889.8 183.7,890.9 185.7,891.5 187.7,891.6 189.7,891.7 191.7,891.7 193.7,891.8 195.7,891.9 197.7,892.1 199.7,892.7 201.7,893.5 203.7,894.7 205.7,896.9 207.7,899.7 209.7,902.3 211.7,905.2 213.7,908.2 215.7,911.0 217.7,913.3 219.7,915.2 221.7,916.9 223.7,918.5 225.7,919.9 227.7,921.2 229.7,922.5 231.7,923.5 233.7,924.2 235.7,924.8 237.7,925.2 239.7,925.5 241.7,925.6 243.7,925.5 245.7,925.4 247.7,925.3 249.7,925.2 251.7,925.2 253.7,925.2 255.7,925.2 257.7,925.2 259.7,925.2 261.7,925.2 263.7,925.4 265.7,926.1 267.7,927.2 269.7,928.2 271.7,929.6 273.7,931.1 275.7,932.8 277.7,934.5 279.7,936.5 281.7,938.6 283.7,940.6 285.7,942.6 287.7,944.6 289.7,946.5 291.7,948.4 293.7,950.2 295.7,952.0 297.7,953.8 299.7,955.5 301.7,957.1 303.7,958.5 305.7,959.6 307.7,960.6 309.7,961.4 311.7,962.2 313.7,962.8 315.7,963.3 317.7,963.8 319.7,964.1 321.7,964.3 323.7,964.4 325.7,964.5 327.7,964.5 329.7,964.6 331.7,964.7 333.7,964.9 335.7,965.2 337.7,965.7 339.7,966.2 341.7,966.7 343.7,967.4 345.7,968.1 347.7,968.9 349.7,969.8 351.7,970.6 353.7,971.5 355.7,972.5 357.7,973.6 359.7,974.6 361.7,975.7 363.7,976.8 365.7,977.8 367.7,978.9 369.7,980.1 371.7,981.4 373.7,982.7 375.7,983.9 377.7,984.8 379.7,985.6 381.7,986.4 383.7,987.0 385.7,987.5 387.7,987.9 389.7,988.3 391.7,988.6 393.7,988.9 395.7,989.1 397.7,989.3 399.7,989.4 401.7,989.5 403.7,989.7 405.7,989.9 407.7,990.0 409.7,990.2 411.7,990.4 413.7,990.7 415.7,991.2 417.7,991.8 419.7,992.4 421.7,993.2 423.7,993.9 425.7,994.6 427.7,995.4 429.7,996.2 431.7,997.1 433.7,997.9 435.7,998.7 437.7,999.5 439.7,1000.3 441.7,1001.1 443.7,1001.9 445.7,1002.6 447.7,1003.4 449.7,1004.1 451.7,1004.8 453.7,1005.4 455.7,1005.9 457.7,1006.3 459.7,1006.7 461.7,1007.0 463.7,1007.3 465.7,1007.5 467.7,1007.6 469.7,1007.8 471.7,1007.9 473.7,1008.0 475.7,1008.0 477.7,1008.0 479.7,1008.0 481.7,1008.0 483.7,1008.0 485.7,1008.0 487.7,1008.0 489.7,1008.2 491.7,1008.4 493.7,1008.8 495.7,1009.2 497.7,1009.6 499.7,1010.1 501.7,1010.7 503.7,1011.3 505.7,1012.0 507.7,1012.7 509.7,1013.4 511.7,1014.1 513.7,1014.8 515.7,1015.6 517.7,1016.4 519.7,1017.1 521.7,1017.6 523.7,1018.1 525.7,1018.5 527.7,1018.9 529.7,1019.3 531.7,1019.6 533.7,1020.0 535.7,1020.3 537.7,1020.7 539.7,1021.0 541.7,1021.1 543.7,1021.1 545.7,1021.1 547.7,1021.1 549.7,1021.1 551.7,1021.1 553.7,1021.1 555.7,1021.0 557.7,1020.8 559.7,1020.7 561.7,1020.5 563.7,1020.5 565.7,1020.5 567.7,1020.6 569.7,1020.7 571.7,1020.9 573.7,1021.1 575.7,1021.3 577.7,1021.8 579.7,1022.3 581.7,1022.9 583.7,1023.5 585.7,1024.1 587.7,1024.9 589.7,1025.6 591.7,1026.4 593.7,1027.0 595.7,1027.5 597.7,1027.9 599.7,1028.2 601.7,1028.5 603.7,1028.7 605.7,1028.9 607.7,1029.1 609.7,1029.2 611.7,1029.4 613.7,1029.5 615.7,1029.6 617.7,1029.6 619.7,1029.7 621.7,1029.7 623.7,1029.8 625.7,1029.8 627.7,1029.8 629.7,1029.8 631.7,1029.9 633.7,1029.9 635.7,1029.9 637.7,1030.0 639.7,1030.0 640.9,1030.0 640.9,1104.8 639.7,1104.8 637.7,1104.8 635.7,1104.8 633.7,1104.8 631.7,1104.8 629.7,1104.8 627.7,1104.8 625.7,1104.7 623.7,1104.7 621.7,1104.7 619.7,1104.7 617.7,1104.7 615.7,1104.7 613.7,1104.7 611.7,1104.7 609.7,1104.6 607.7,1104.6 605.7,1104.6 603.7,1104.6 601.7,1104.6 599.7,1104.6 597.7,1104.6 595.7,1104.5 593.7,1104.5 591.7,1104.5 589.7,1104.5 587.7,1104.5 585.7,1104.5 583.7,1104.4 581.7,1104.4 579.7,1104.4 577.7,1104.4 575.7,1104.4 573.7,1104.3 571.7,1104.3 569.7,1104.3 567.7,1104.3 565.7,1104.3 563.7,1104.3 561.7,1104.2 559.7,1104.2 557.7,1104.2 555.7,1104.2 553.7,1104.1 551.7,1104.1 549.7,1104.1 547.7,1104.1 545.7,1104.1 543.7,1104.0 541.7,1104.0 539.7,1104.0 537.7,1104.0 535.7,1103.9 533.7,1103.9 531.7,1103.9 529.7,1103.8 527.7,1103.8 525.7,1103.8 523.7,1103.7 521.7,1103.7 519.7,1103.7 517.7,1103.6 515.7,1103.6 513.7,1103.6 511.7,1103.5 509.7,1103.5 507.7,1103.5 505.7,1103.4 503.7,1103.4 501.7,1103.3 499.7,1103.3 497.7,1103.3 495.7,1103.2 493.7,1103.2 491.7,1103.1 489.7,1103.1 487.7,1103.0 485.7,1103.0 483.7,1102.9 481.7,1102.9 479.7,1102.8 477.7,1102.7 475.7,1102.7 473.7,1102.6 471.7,1102.6 469.7,1102.5 467.7,1102.4 465.7,1102.4 463.7,1102.3 461.7,1102.2 459.7,1102.2 457.7,1102.1 455.7,1102.1 453.7,1102.0 451.7,1101.9 449.7,1101.9 447.7,1101.8 445.7,1101.8 443.7,1101.7 441.7,1101.7 439.7,1101.6 437.7,1101.6 435.7,1101.5 433.7,1101.5 431.7,1101.4 429.7,1101.4 427.7,1101.3 425.7,1101.3 423.7,1101.2 421.7,1101.2 419.7,1101.1 417.7,1101.1 415.7,1101.0 413.7,1100.9 411.7,1100.9 409.7,1100.8 407.7,1100.7 405.7,1100.7 403.7,1100.6 401.7,1100.5 399.7,1100.5 397.7,1100.4 395.7,1100.3 393.7,1100.3 391.7,1100.2 389.7,1100.2 387.7,1100.1 385.7,1100.1 383.7,1100.1 381.7,1100.0 379.7,1100.0 377.7,1099.9 375.7,1099.8 373.7,1099.7 371.7,1099.5 369.7,1099.2 367.7,1099.0 365.7,1098.8 363.7,1098.6 361.7,1098.4 359.7,1098.3 357.7,1098.2 355.7,1098.1 353.7,1098.0 351.7,1097.9 349.7,1097.8 347.7,1097.7 345.7,1097.6 343.7,1097.6 341.7,1097.5 339.7,1097.4 337.7,1097.3 335.7,1097.2 333.7,1097.0 331.7,1096.9 329.7,1096.8 327.7,1096.6 325.7,1096.5 323.7,1096.4 321.7,1096.2 319.7,1096.1 317.7,1095.9 315.7,1095.7 313.7,1095.6 311.7,1095.5 309.7,1095.3 307.7,1095.2 305.7,1095.1 303.7,1094.9 301.7,1094.9 299.7,1094.8 297.7,1094.7 295.7,1094.5 293.7,1094.4 291.7,1094.2 289.7,1094.0 287.7,1093.6 285.7,1093.2 283.7,1092.8 281.7,1092.3 279.7,1091.9 277.7,1091.6 275.7,1091.4 273.7,1091.1 271.7,1090.9 269.7,1090.6 267.7,1090.4 265.7,1090.2 263.7,1090.1 261.7,1089.9 259.7,1089.8 257.7,1089.7 255.7,1089.6 253.7,1089.5 251.7,1089.4 249.7,1089.3 247.7,1089.2 245.7,1089.0 243.7,1088.9 241.7,1088.8 239.7,1088.7 237.7,1088.5 235.7,1088.4 233.7,1088.3 231.7,1088.2 229.7,1088.1 227.7,1088.0 225.7,1088.0 223.7,1087.9 221.7,1087.8 219.7,1087.7 217.7,1087.6 215.7,1087.4 213.7,1087.2 211.7,1086.8 209.7,1086.2 207.7,1085.4 205.7,1084.9 203.7,1084.4 201.7,1084.0 199.7,1083.6 197.7,1083.2 195.7,1082.8 193.7,1082.5 191.7,1082.2 189.7,1082.0 187.7,1081.7 185.7,1081.5 183.7,1081.3 181.7,1081.1 179.7,1080.9 177.7,1080.7 175.7,1080.6 173.7,1080.4 171.7,1080.2 169.7,1080.1 167.7,1080.1 165.7,1080.0 163.7,1079.9 161.7,1079.9 159.7,1079.8 157.7,1079.8 155.7,1079.8 153.7,1079.8 151.7,1079.8 149.7,1079.8 147.7,1079.8 145.7,1079.8 143.7,1079.8 141.7,1079.9 139.7,1080.1 137.7,1080.4 135.7,1080.9 133.7,1081.4 131.7,1082.2 129.7,1083.0 127.7,1083.7 125.7,1084.4 123.7,1085.1 121.7,1085.7 119.7,1086.4 117.7,1087.1 115.7,1087.9 113.7,1088.8 111.7,1089.6 109.7,1090.5 107.7,1091.2 105.7,1091.9 103.7,1092.5 101.7,1093.1 99.7,1093.6 97.7,1093.8 95.7,1093.7 93.7,1093.3 91.7,1092.6 89.7,1091.7 87.7,1090.5" fill="#ff0000" stroke="#000" stroke-width="1" stroke-linejoin="round"/>
<polygon points="87.7,1090.5 89.7,1091.7 91.7,1092.6 93.7,1093.3 95.7,1093.7 97.7,1093.8 99.7,1093.6 101.7,1093.1 103.7,1092.5 105.7,1091.9 107.7,1091.2 109.7,1090.5 111.7,1089.6 113.7,1088.8 115.7,1087.9 117.7,1087.1 119.7,1086.4 121.7,1085.7 123.7,1085.1 125.7,1084.4 127.7,1083.7 129.7,1083.0 131.7,1082.2 133.7,1081.4 135.7,1080.9 137.7,1080.4 139.7,1080.1 141.7,1079.9 143.7,1079.8 145.7,1079.8 147.7,1079.8 149.7,1079.8 151.7,1079.8 153.7,1079.8 155.7,1079.8 157.7,1079.8 159.7,1079.8 161.7,1079.9 163.7,1079.9 165.7,1080.0 167.7,1080.1 169.7,1080.1 171.7,1080.2 173.7,1080.4 175.7,1080.6 177.7,1080.7 179.7,1080.9 181.7,1081.1 183.7,1081.3 185.7,1081.5 187.7,1081.7 189.7,1082.0 191.7,1082.2 193.7,1082.5 195.7,1082.8 197.7,1083.2 199.7,1083.6 201.7,1084.0 203.7,1084.4 205.7,1084.9 207.7,1085.4 209.7,1086.2 211.7,1086.8 213.7,1087.2 215.7,1087.4 217.7,1087.6 219.7,1087.7 221.7,1087.8 223.7,1087.9 225.7,1088.0 227.7,1088.0 229.7,1088.1 231.7,1088.2 233.7,1088.3 235.7,1088.4 237.7,1088.5 239.7,1088.7 241.7,1088.8 243.7,1088.9 245.7,1089.0 247.7,1089.2 249.7,1089.3 251.7,1089.4 253.7,1089.5 255.7,1089.6 257.7,1089.7 259.7,1089.8 261.7,1089.9 263.7,1090.1 265.7,1090.2 267.7,1090.4 269.7,1090.6 271.7,1090.9 273.7,1091.1 275.7,1091.4 277.7,1091.6 279.7,1091.9 281.7,1092.3 283.7,1092.8 285.7,1093.2 287.7,1093.6 289.7,1094.0 291.7,1094.2 293.7,1094.4 295.7,1094.5 297.7,1094.7 299.7,1094.8 301.7,1094.9 303.7,1094.9 305.7,1095.1 307.7,1095.2 309.7,1095.3 311.7,1095.5 313.7,1095.6 315.7,1095.7 317.7,1095.9 319.7,1096.1 321.7,1096.2 323.7,1096.4 325.7,1096.5 327.7,1096.6 329.7,1096.8 331.7,1096.9 333.7,1097.0 335.7,1097.2 337.7,1097.3 339.7,1097.4 341.7,1097.5 343.7,1097.6 345.7,1097.6 347.7,1097.7 349.7,1097.8 351.7,1097.9 353.7,1098.0 355.7,1098.1 357.7,1098.2 359.7,1098.3 361.7,1098.4 363.7,1098.6 365.7,1098.8 367.7,1099.0 369.7,1099.2 371.7,1099.5 373.7,1099.7 375.7,1099.8 377.7,1099.9 379.7,1100.0 381.7,1100.0 383.7,1100.1 385.7,1100.1 387.7,1100.1 389.7,1100.2 391.7,1100.2 393.7,1100.3 395.7,1100.3 397.7,1100.4 399.7,1100.5 401.7,1100.5 403.7,1100.6 405.7,1100.7 407.7,1100.7 409.7,1100.8 411.7,1100.9 413.7,1100.9 415.7,1101.0 417.7,1101.1 419.7,1101.1 421.7,1101.2 423.7,1101.2 425.7,1101.3 427.7,1101.3 429.7,1101.4 431.7,1101.4 433.7,1101.5 435.7,1101.5 437.7,1101.6 439.7,1101.6 441.7,1101.7 443.7,1101.7 445.7,1101.8 447.7,1101.8 449.7,1101.9 451.7,1101.9 453.7,1102.0 455.7,1102.1 457.7,1102.1 459.7,1102.2 461.7,1102.2 463.7,1102.3 465.7,1102.4 467.7,1102.4 469.7,1102.5 471.7,1102.6 473.7,1102.6 475.7,1102.7 477.7,1102.7 479.7,1102.8 481.7,1102.9 483.7,1102.9 485.7,1103.0 487.7,1103.0 489.7,1103.1 491.7,1103.1 493.7,1103.2 495.7,1103.2 497.7,1103.3 499.7,1103.3 501.7,1103.3 503.7,1103.4 505.7,1103.4 507.7,1103.5 509.7,1103.5 511.7,1103.5 513.7,1103.6 515.7,1103.6 517.7,1103.6 519.7,1103.7 521.7,1103.7 523.7,1103.7 525.7,1103.8 527.7,1103.8 529.7,1103.8 531.7,1103.9 533.7,1103.9 535.7,1103.9 537.7,1104.0 539.7,1104.0 541.7,1104.0 543.7,1104.0 545.7,1104.1 547.7,1104.1 549.7,1104.1 551.7,1104.1 553.7,1104.1 555.7,1104.2 557.7,1104.2 559.7,1104.2 561.7,1104.2 563.7,1104.3 565.7,1104.3 567.7,1104.3 569.7,1104.3 571.7,1104.3 573.7,1104.3 575.7,1104.4 577.7,1104.4 579.7,1104.4 581.7,1104.4 583.7,1104.4 585.7,1104.5 587.7,1104.5 589.7,1104.5 591.7,1104.5 593.7,1104.5 595.7,1104.5 597.7,1104.6 599.7,1104.6 601.7,1104.6 603.7,1104.6 605.7,1104.6 607.7,1104.6 609.7,1104.6 611.7,1104.7 613.7,1104.7 615.7,1104.7 617.7,1104.7 619.7,1104.7 621.7,1104.7 623.7,1104.7 625.7,1104.7 627.7,1104.8 629.7,1104.8 631.7,1104.8 633.7,1104.8 635.7,1104.8 637.7,1104.8 639.7,1104.8 640.9,1104.8 640.9,1109.0 87.7,1109.0" fill="#0000ff" stroke="#000" stroke-width="1" stroke-linejoin="round"/>
<polyline points="87.7,625.0 89.7,626.3 91.7,627.6 93.7,628.8 95.7,630.0 97.7,631.1 99.7,632.2 101.7,633.3 103.7,634.3 105.7,635.4 107.7,636.5 109.7,637.6 111.7,638.7 113.7,639.8 115.7,641.0 117.7,642.2 119.7,643.5 121.7,644.8 123.7,646.2 125.7,647.7 127.7,649.3 129.7,651.0 131.7,652.8 133.7,654.6 135.7,656.6 137.7,658.7 139.7,660.8 141.7,663.0 143.7,665.3 145.7,667.7 147.7,670.1 149.7,672.5 151.7,675.0 153.7,677.5 155.7,680.0 157.7,682.6 159.7,685.2 161.7,687.9 163.7,690.6 165.7,693.3 167.7,696.1 169.7,698.8 171.7,701.6 173.7,704.4 175.7,707.2 177.7,709.9 179.7,712.7 181.7,715.4 183.7,718.2 185.7,720.9 187.7,723.6 189.7,726.3 191.7,728.9 193.7,731.6 195.7,734.2 197.7,736.9 199.7,739.5 201.7,742.0 203.7,744.6 205.7,747.1 207.7,749.6 209.7,752.1 211.7,754.6 213.7,757.0 215.7,759.5 217.7,761.9 219.7,764.3 221.7,766.6 223.7,769.0 225.7,771.3 227.7,773.6 229.7,775.9 231.7,778.1 233.7,780.4 235.7,782.6 237.7,784.8 239.7,787.0 241.7,789.1 243.7,791.3 245.7,793.4 247.7,795.5 249.7,797.6 251.7,799.7 253.7,801.7 255.7,803.7 257.7,805.7 259.7,807.7 261.7,809.7 263.7,811.7 265.7,813.6 267.7,815.6 269.7,817.5 271.7,819.4 273.7,821.3 275.7,823.1 277.7,825.0 279.7,826.8 281.7,828.6 283.7,830.4 285.7,832.2 287.7,833.9 289.7,835.6 291.7,837.4 293.7,839.1 295.7,840.7 297.7,842.4 299.7,844.0 301.7,845.6 303.7,847.2 305.7,848.8 307.7,850.3 309.7,851.9 311.7,853.4 313.7,854.9 315.7,856.3 317.7,857.8 319.7,859.2 321.7,860.6 323.7,862.0 325.7,863.4 327.7,864.7 329.7,866.1 331.7,867.4 333.7,868.7 335.7,870.0 337.7,871.3 339.7,872.6 341.7,873.9 343.7,875.1 345.7,876.4 347.7,877.6 349.7,878.9 351.7,880.1 353.7,881.3 355.7,882.5 357.7,883.7 359.7,884.9 361.7,886.1 363.7,887.2 365.7,888.4 367.7,889.5 369.7,890.6 371.7,891.7 373.7,892.8 375.7,893.9 377.7,895.0 379.7,896.1 381.7,897.1 383.7,898.1 385.7,899.2 387.7,900.2 389.7,901.1 391.7,902.1 393.7,903.1 395.7,904.0 397.7,905.0 399.7,905.9 401.7,906.8 403.7,907.7 405.7,908.5 407.7,909.4 409.7,910.2 411.7,911.1 413.7,911.9 415.7,912.7 417.7,913.5 419.7,914.3 421.7,915.1 423.7,915.8 425.7,916.6 427.7,917.3 429.7,918.1 431.7,918.8 433.7,919.5 435.7,920.2 437.7,920.9 439.7,921.6 441.7,922.3 443.7,923.0 445.7,923.7 447.7,924.3 449.7,925.0 451.7,925.6 453.7,926.3 455.7,926.9 457.7,927.6 459.7,928.2 461.7,928.8 463.7,929.4 465.7,930.0 467.7,930.6 469.7,931.2 471.7,931.8 473.7,932.4 475.7,933.0 477.7,933.6 479.7,934.1 481.7,934.7 483.7,935.2 485.7,935.8 487.7,936.3 489.7,936.9 491.7,937.4 493.7,938.0 495.7,938.5 497.7,939.0 499.7,939.5 501.7,940.0 503.7,940.5 505.7,941.0 507.7,941.5 509.7,942.0 511.7,942.5 513.7,943.0 515.7,943.5 517.7,944.0 519.7,944.5 521.7,944.9 523.7,945.4 525.7,945.9 527.7,946.3 529.7,946.8 531.7,947.3 533.7,947.7 535.7,948.2 537.7,948.6 539.7,949.0 541.7,949.5 543.7,949.9 545.7,950.4 547.7,950.8 549.7,951.2 551.7,951.6 553.7,952.1 555.7,952.5 557.7,952.9 559.7,953.3 561.7,953.7 563.7,954.1 565.7,954.5 567.7,954.9 569.7,955.3 571.7,955.7 573.7,956.1 575.7,956.5 577.7,956.9 579.7,957.3 581.7,957.6 583.7,958.0 585.7,958.4 587.7,958.8 589.7,959.1 591.7,959.5 593.7,959.9 595.7,960.2 597.7,960.6 599.7,960.9 601.7,961.3 603.7,961.6 605.7,962.0 607.7,962.3 609.7,962.7 611.7,963.0 613.7,963.3 615.7,963.7 617.7,964.0 619.7,964.3 621.7,964.7 623.7,965.0 625.7,965.3 627.7,965.6 629.7,966.0 631.7,966.3 633.7,966.6 635.7,966.9 637.7,967.2 639.7,967.5 640.9,967.7" fill="none" stroke="#000" stroke-width="5.8" stroke-linejoin="round"/>
<path d="M86.3,624.9H709.1" stroke="#000" stroke-width="2.5" fill="none"/>
<path d="M86.3,1109.0H709.1" stroke="#000" stroke-width="3.3" fill="none"/>
<path d="M87.7,623.7V1110.6" stroke="#000" stroke-width="2.8" fill="none"/>
<path d="M707.8,623.7V1110.6" stroke="#000" stroke-width="2.6" fill="none"/>
<path d="M255.3,1109.0v-7.2M255.3,624.9v7.2" stroke="#000" stroke-width="2.9"/>
<path d="M422.9,1109.0v-7.2M422.9,624.9v7.2" stroke="#000" stroke-width="2.9"/>
<path d="M590.5,1109.0v-7.2M590.5,624.9v7.2" stroke="#000" stroke-width="2.9"/>
<path d="M87.7,1012.2h7.2M707.8,1012.2h-7.2" stroke="#000" stroke-width="2.9"/>
<path d="M87.7,915.4h7.2M707.8,915.4h-7.2" stroke="#000" stroke-width="2.9"/>
<path d="M87.7,818.6h7.2M707.8,818.6h-7.2" stroke="#000" stroke-width="2.9"/>
<path d="M87.7,721.7h7.2M707.8,721.7h-7.2" stroke="#000" stroke-width="2.9"/>
<text transform="matrix(0.3050,0,0,0.2780,2.03,24.22)" font-size="100" font-style="italic">(a)</text>
<text transform="matrix(0.2548,0,0,0.2341,64.08,510.02)" font-size="100" font-weight="bold">0</text>
<text transform="matrix(0.2299,0,0,0.2353,42.98,412.87)" font-size="100" font-weight="bold">0.2</text>
<text transform="matrix(0.2261,0,0,0.2353,43.00,316.04)" font-size="100" font-weight="bold">0.4</text>
<text transform="matrix(0.2280,0,0,0.2353,42.99,219.21)" font-size="100" font-weight="bold">0.6</text>
<text transform="matrix(0.2289,0,0,0.2353,42.98,122.38)" font-size="100" font-weight="bold">0.8</text>
<text transform="matrix(0.2162,0,0,0.2303,64.27,25.70)" font-size="100" font-weight="bold">1</text>
<text transform="matrix(0.2524,0,0,0.2296,79.29,531.67)" font-size="100" font-weight="bold">0</text>
<text transform="matrix(0.1784,0,0,0.2242,248.17,531.40)" font-size="100" font-weight="bold">1</text>
<text transform="matrix(0.2595,0,0,0.2242,413.96,531.40)" font-size="100" font-weight="bold">2</text>
<text transform="matrix(0.2488,0,0,0.2313,581.63,531.67)" font-size="100" font-weight="bold">3</text>
<text transform="matrix(0,-0.3050,0.3038,0,29.60,306.56)" font-size="100" font-weight="bold">E</text>
<text transform="matrix(0,-0.4073,0.4179,0,35.78,284.20)" font-size="100" >/</text>
<text transform="matrix(0,-0.2489,0.3014,0,29.80,271.15)" font-size="100" font-style="italic">δ</text>
<text transform="matrix(0,-0.3361,0.3015,0,29.45,257.60)" font-size="100" font-weight="bold">W</text>
<text transform="matrix(0,-0.2048,0.2119,0,33.99,222.72)" font-size="100" font-weight="bold">0</text>
<text transform="matrix(0.3556,0,0,0.3287,371.67,561.57)" font-size="100" font-weight="bold">t</text>
<text transform="matrix(0.4182,0,0,0.4269,385.80,568.67)" font-size="100" >/</text>
<text transform="matrix(0.3216,0,0,0.2660,398.56,561.63)" font-size="100" font-style="italic">τ</text>
<text transform="matrix(0.2500,0,0,0.1807,410.50,566.32)" font-size="100" font-weight="bold">0</text>
<text transform="matrix(0.3067,0,0,0.3563,649.08,374.14)" font-size="100" font-style="italic">δ</text>
<text transform="matrix(0.4031,0,0,0.3582,666.30,373.96)" font-size="100" font-weight="bold">W</text>
<text transform="matrix(0.3817,0,0,0.3618,507.23,149.90)" font-size="100" font-weight="bold">E</text>
<text transform="matrix(0.3117,0,0,0.2375,532.01,153.96)" font-size="100" font-weight="bold">e</text>
<text transform="matrix(0.2118,0,0,0.2659,532.45,132.18)" font-size="100" >(</text>
<text transform="matrix(0.2927,0,0,0.2340,539.88,131.87)" font-size="100" font-weight="bold">coll</text>
<text transform="matrix(0.2115,0,0,0.2659,584.17,132.18)" font-size="100" >)</text>
<text transform="matrix(0.3817,0,0,0.3618,507.23,295.10)" font-size="100" font-weight="bold">E</text>
<text transform="matrix(0.2653,0,0,0.2331,532.87,305.00)" font-size="100" font-weight="bold">i</text>
<text transform="matrix(0.2118,0,0,0.2659,532.45,277.38)" font-size="100" >(</text>
<text transform="matrix(0.2927,0,0,0.2340,539.88,277.07)" font-size="100" font-weight="bold">coll</text>
<text transform="matrix(0.2115,0,0,0.2659,584.17,277.38)" font-size="100" >)</text>
<polygon points="167.70,493.80 162.59,508.78 162.11,503.71 144.72,524.76 141.63,522.21 159.02,501.16 153.95,501.64" fill="#000"/>
<text transform="matrix(0.3867,0,0,0.3618,105.22,561.80)" font-size="100" font-weight="bold">E</text>
<text transform="matrix(0.3065,0,0,0.2396,130.13,565.86)" font-size="100" font-weight="bold">e</text>
<text transform="matrix(0.2627,0,0,0.2681,130.92,544.04)" font-size="100" >(</text>
<text transform="matrix(0.2698,0,0,0.2626,140.33,543.64)" font-size="100" font-weight="bold">nt</text>
<text transform="matrix(0.2462,0,0,0.2681,165.06,544.04)" font-size="100" >)</text>
<text transform="matrix(0.3050,0,0,0.2780,2.03,632.22)" font-size="100" font-style="italic">(b)</text>
<text transform="matrix(0.2548,0,0,0.2341,64.08,1118.02)" font-size="100" font-weight="bold">0</text>
<text transform="matrix(0.2299,0,0,0.2353,42.98,1020.87)" font-size="100" font-weight="bold">0.2</text>
<text transform="matrix(0.2261,0,0,0.2353,43.00,924.04)" font-size="100" font-weight="bold">0.4</text>
<text transform="matrix(0.2280,0,0,0.2353,42.99,827.21)" font-size="100" font-weight="bold">0.6</text>
<text transform="matrix(0.2289,0,0,0.2353,42.98,730.38)" font-size="100" font-weight="bold">0.8</text>
<text transform="matrix(0.2162,0,0,0.2303,64.27,633.70)" font-size="100" font-weight="bold">1</text>
<text transform="matrix(0.2524,0,0,0.2296,79.29,1139.67)" font-size="100" font-weight="bold">0</text>
<text transform="matrix(0.1784,0,0,0.2242,248.17,1139.40)" font-size="100" font-weight="bold">1</text>
<text transform="matrix(0.2595,0,0,0.2242,413.96,1139.40)" font-size="100" font-weight="bold">2</text>
<text transform="matrix(0.2488,0,0,0.2313,581.63,1139.67)" font-size="100" font-weight="bold">3</text>
<text transform="matrix(0,-0.3050,0.3038,0,29.60,914.56)" font-size="100" font-weight="bold">E</text>
<text transform="matrix(0,-0.4073,0.4179,0,35.78,892.20)" font-size="100" >/</text>
<text transform="matrix(0,-0.2489,0.3014,0,29.80,879.15)" font-size="100" font-style="italic">δ</text>
<text transform="matrix(0,-0.3361,0.3015,0,29.45,865.60)" font-size="100" font-weight="bold">W</text>
<text transform="matrix(0,-0.2048,0.2119,0,33.99,830.72)" font-size="100" font-weight="bold">0</text>
<text transform="matrix(0.3556,0,0,0.3287,371.67,1169.57)" font-size="100" font-weight="bold">t</text>
<text transform="matrix(0.4182,0,0,0.4269,385.80,1176.67)" font-size="100" >/</text>
<text transform="matrix(0.3216,0,0,0.2660,398.56,1169.63)" font-size="100" font-style="italic">τ</text>
<text transform="matrix(0.2500,0,0,0.1807,410.50,1174.32)" font-size="100" font-weight="bold">0</text>
<text transform="matrix(0.3067,0,0,0.3563,649.08,982.14)" font-size="100" font-style="italic">δ</text>
<text transform="matrix(0.4031,0,0,0.3582,666.30,981.96)" font-size="100" font-weight="bold">W</text>
<text transform="matrix(0.3817,0,0,0.3618,507.23,757.90)" font-size="100" font-weight="bold">E</text>
<text transform="matrix(0.3117,0,0,0.2375,532.01,761.96)" font-size="100" font-weight="bold">e</text>
<text transform="matrix(0.2118,0,0,0.2659,532.45,740.18)" font-size="100" >(</text>
<text transform="matrix(0.2927,0,0,0.2340,539.88,739.87)" font-size="100" font-weight="bold">coll</text>
<text transform="matrix(0.2115,0,0,0.2659,584.17,740.18)" font-size="100" >)</text>
<text transform="matrix(0.3817,0,0,0.3618,507.23,903.10)" font-size="100" font-weight="bold">E</text>
<text transform="matrix(0.2653,0,0,0.2331,532.87,913.00)" font-size="100" font-weight="bold">i</text>
<text transform="matrix(0.2118,0,0,0.2659,532.45,885.38)" font-size="100" >(</text>
<text transform="matrix(0.2927,0,0,0.2340,539.88,885.07)" font-size="100" font-weight="bold">coll</text>
<text transform="matrix(0.2115,0,0,0.2659,584.17,885.38)" font-size="100" >)</text>
<polygon points="167.70,1101.80 162.59,1116.78 162.11,1111.71 144.72,1132.76 141.63,1130.21 159.02,1109.16 153.95,1109.64" fill="#000"/>
<text transform="matrix(0.3867,0,0,0.3618,105.22,1169.80)" font-size="100" font-weight="bold">E</text>
<text transform="matrix(0.3065,0,0,0.2396,130.13,1173.86)" font-size="100" font-weight="bold">e</text>
<text transform="matrix(0.2627,0,0,0.2681,130.92,1152.04)" font-size="100" >(</text>
<text transform="matrix(0.2089,0,0,0.2507,139.77,1152.15)" font-size="100" font-style="italic">δ</text>
<text transform="matrix(0.3059,0,0,0.2454,151.75,1151.90)" font-size="100" font-weight="bold">f</text>
<text transform="matrix(0.2538,0,0,0.2681,162.74,1152.04)" font-size="100" >)</text>
<text transform="matrix(0.3867,0,0,0.3634,172.22,316.60)" font-size="100" font-weight="bold">E</text>
<text transform="matrix(0.1961,0,0,0.2692,197.92,304.61)" font-size="100" >(</text>
<text transform="matrix(0.2888,0,0,0.2312,206.17,304.27)" font-size="100" font-weight="bold">turb</text>
<text transform="matrix(0.2154,0,0,0.2692,260.85,304.61)" font-size="100" >)</text>
<text transform="matrix(0.3867,0,0,0.3634,172.32,464.70)" font-size="100" font-weight="bold">E</text>
<text transform="matrix(0.2571,0,0,0.2345,197.79,474.80)" font-size="100" font-weight="bold">i</text>
<text transform="matrix(0.2706,0,0,0.2681,197.78,446.94)" font-size="100" >(</text>
<text transform="matrix(0.2698,0,0,0.2591,207.13,446.74)" font-size="100" font-weight="bold">nt</text>
<text transform="matrix(0.2462,0,0,0.2681,232.16,446.94)" font-size="100" >)</text>
<text transform="matrix(0.3867,0,0,0.3618,138.42,802.50)" font-size="100" font-weight="bold">E</text>
<text transform="matrix(0.2800,0,0,0.2500,164.58,807.58)" font-size="100" font-weight="bold">B</text>
<text transform="matrix(0.1657,0,0,0.1614,182.99,811.30)" font-size="100" font-family="DejaVu Sans, sans-serif">⊥</text>
<text transform="matrix(0.3883,0,0,0.3588,138.52,1023.80)" font-size="100" font-weight="bold">E</text>
<text transform="matrix(0.2612,0,0,0.2374,164.38,1034.30)" font-size="100" font-weight="bold">i</text>
<text transform="matrix(0.2471,0,0,0.2681,164.69,1006.24)" font-size="100" >(</text>
<text transform="matrix(0.2111,0,0,0.2549,173.17,1006.45)" font-size="100" font-style="italic">δ</text>
<text transform="matrix(0.3088,0,0,0.2440,185.35,1005.80)" font-size="100" font-weight="bold">f</text>
<text transform="matrix(0.2615,0,0,0.2681,195.82,1006.24)" font-size="100" >)</text>
</svg>
</body></html>
